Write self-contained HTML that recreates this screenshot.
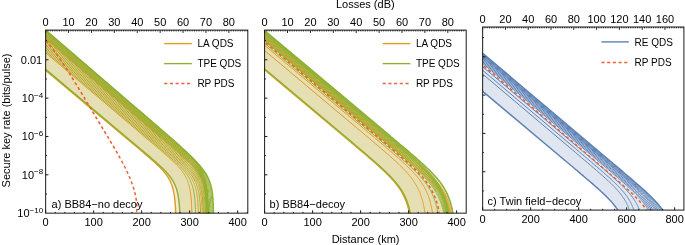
<!DOCTYPE html><html><head><meta charset="utf-8"><style>html,body{margin:0;padding:0;background:#fff;}svg{display:block;will-change:transform;}</style></head><body>
<svg xmlns="http://www.w3.org/2000/svg" width="685" height="245" viewBox="0 0 685 245" font-family='"Liberation Sans", sans-serif'>
<defs><clipPath id="cpa"><rect x="45.65" y="30.1" width="202.15" height="183.05"/></clipPath><clipPath id="cpb"><rect x="264.6" y="30.1" width="201.6" height="183.05"/></clipPath><clipPath id="cpc"><rect x="482.65" y="27" width="201.25" height="183.1"/></clipPath></defs>
<g clip-path="url(#cpa)">
<path d="M42.6,30.1 163.1,133.6 164.6,134.9 166.1,136.2 167.6,137.5 169.1,138.8 170.6,140.1 172.1,141.4 173.6,142.7 175.1,144.0 176.6,145.3 178.1,146.6 179.6,147.9 181.1,149.2 182.6,150.6 184.1,151.9 185.6,153.3 187.1,154.6 188.6,156.1 190.1,157.5 190.7,158.1 191.3,158.7 191.9,159.3 192.5,159.9 193.1,160.5 193.7,161.2 194.3,161.8 194.9,162.5 195.5,163.1 196.1,163.8 196.7,164.6 197.3,165.3 197.9,166.1 198.5,166.9 199.1,167.7 199.7,168.6 200.3,169.5 200.9,170.5 201.5,171.5 202.1,172.6 202.7,173.9 202.9,174.2 203.0,174.5 203.2,174.9 203.3,175.2 203.5,175.6 203.6,175.9 203.8,176.3 203.9,176.7 204.1,177.1 204.2,177.5 204.4,177.9 204.5,178.4 204.7,178.8 204.8,179.3 205.0,179.8 205.1,180.3 205.3,180.8 205.4,181.4 205.6,182.0 205.7,182.6 205.9,183.2 206.0,183.9 206.2,184.6 206.3,185.4 206.5,186.2 206.6,187.1 206.8,188.0 206.9,189.1 207.1,190.2 207.2,191.4 207.4,192.8 207.5,194.3 207.7,196.1 207.8,198.2 208.0,200.7 208.1,203.9 208.3,208.2 208.4,215.0 208.6,231.8 208.6,218.2 175.9,218.2 175.9,222.2 175.8,215.5 175.6,211.1 175.5,208.0 175.3,205.4 175.2,203.4 175.0,201.6 174.9,200.0 174.7,198.7 174.6,197.4 174.4,196.3 174.3,195.3 174.1,194.4 174.0,193.5 173.8,192.7 173.7,191.9 173.5,191.2 173.4,190.5 173.2,189.9 173.1,189.3 172.9,188.7 172.8,188.1 172.6,187.6 172.5,187.1 172.3,186.6 172.2,186.1 172.0,185.7 171.9,185.3 171.7,184.8 171.6,184.4 171.4,184.0 171.3,183.6 171.1,183.3 171.0,182.9 170.8,182.6 170.7,182.2 170.5,181.9 170.4,181.5 170.2,181.2 169.6,180.0 169.0,178.9 168.4,177.9 167.8,176.9 167.2,176.0 166.6,175.1 166.0,174.3 165.4,173.5 164.8,172.8 164.2,172.0 163.6,171.3 163.0,170.6 162.4,170.0 161.8,169.3 161.2,168.7 160.6,168.1 160.0,167.4 159.4,166.8 158.8,166.2 158.2,165.7 157.6,165.1 156.1,163.7 154.6,162.3 153.1,160.9 151.6,159.6 150.1,158.3 148.6,157.0 147.1,155.7 145.6,154.4 144.1,153.1 142.6,151.8 141.1,150.6 139.6,149.3 138.1,148.0 136.6,146.7 135.1,145.5 133.6,144.2 132.1,143.0 130.6,141.7 42.6,67.8Z" fill="#E19C24" fill-opacity="0.2"/>
<path d="M42.6,27.5 136.5,108.3 138.0,109.6 139.5,110.8 141.0,112.1 142.5,113.4 144.0,114.7 145.5,116.0 147.0,117.3 148.5,118.6 150.0,119.9 151.5,121.2 153.0,122.5 154.5,123.8 156.0,125.1 157.5,126.4 159.0,127.7 160.5,129.0 162.0,130.3 163.5,131.6 165.0,132.9 166.5,134.2 168.0,135.5 169.5,136.8 171.0,138.1 172.5,139.4 174.0,140.7 175.5,142.1 177.0,143.4 178.5,144.7 180.0,146.1 181.5,147.4 182.1,148.0 182.7,148.5 183.3,149.1 183.9,149.6 184.5,150.2 185.1,150.7 185.7,151.3 186.3,151.8 186.9,152.4 187.5,153.0 188.1,153.5 188.7,154.1 189.3,154.7 189.9,155.3 190.5,155.8 191.1,156.4 191.7,157.0 192.3,157.6 192.9,158.2 193.5,158.8 194.1,159.4 194.7,160.0 195.3,160.7 195.9,161.3 196.5,161.9 197.1,162.6 197.7,163.2 198.3,163.9 198.9,164.6 199.5,165.3 200.1,166.0 200.7,166.7 201.3,167.5 201.9,168.2 202.5,169.0 203.1,169.8 203.3,170.0 203.4,170.2 203.6,170.4 203.7,170.6 203.9,170.8 204.0,171.1 204.2,171.3 204.3,171.5 204.5,171.7 204.6,171.9 204.8,172.2 204.9,172.4 205.1,172.6 205.2,172.9 205.4,173.1 205.5,173.3 205.7,173.6 205.8,173.8 206.0,174.1 206.1,174.3 206.3,174.6 206.4,174.8 206.6,175.1 206.7,175.4 206.9,175.6 207.0,175.9 207.2,176.2 207.3,176.5 207.5,176.7 207.6,177.0 207.8,177.3 207.9,177.6 208.1,178.0 208.2,178.3 208.4,178.6 208.5,178.9 208.7,179.3 208.8,179.6 209.0,180.0 209.1,180.3 209.3,180.7 209.4,181.1 209.6,181.5 209.7,181.9 209.9,182.3 210.0,182.8 210.2,183.2 210.3,183.7 210.5,184.2 210.6,184.7 210.8,185.2 210.9,185.8 211.1,186.4 211.2,187.0 211.4,187.6 211.5,188.3 211.7,189.1 211.8,189.9 212.0,190.8 212.1,191.7 212.3,192.8 212.4,194.0 212.6,195.3 212.7,196.9 212.9,198.7 213.0,201.1 213.2,204.3 213.3,209.2 213.5,221.3 213.5,218.2 180.0,218.2 180.0,218.0 179.8,213.7 179.7,210.5 179.5,208.0 179.4,205.9 179.2,204.1 179.1,202.6 178.9,201.2 178.8,200.0 178.6,198.9 178.5,197.8 178.3,196.9 178.2,196.0 178.0,195.2 177.9,194.5 177.7,193.7 177.6,193.1 177.4,192.4 177.3,191.8 177.1,191.2 177.0,190.7 176.8,190.1 176.7,189.6 176.5,189.1 176.4,188.7 176.2,188.2 176.1,187.8 175.9,187.4 175.8,186.9 175.6,186.6 175.5,186.2 175.3,185.8 175.2,185.4 175.0,185.1 174.9,184.7 174.7,184.4 174.6,184.1 174.4,183.7 173.8,182.5 173.2,181.4 172.6,180.4 172.0,179.4 171.4,178.5 170.8,177.7 170.2,176.8 169.6,176.0 169.0,175.3 168.4,174.6 167.8,173.8 167.2,173.2 166.6,172.5 166.0,171.8 165.4,171.2 164.8,170.6 164.2,170.0 163.6,169.4 163.0,168.8 162.4,168.2 161.8,167.6 160.3,166.2 158.8,164.8 157.3,163.5 155.8,162.1 154.3,160.8 152.8,159.5 151.3,158.2 149.8,156.9 148.3,155.6 146.8,154.4 145.3,153.1 143.8,151.8 142.3,150.5 140.8,149.3 139.3,148.0 137.8,146.7 136.3,145.5 134.8,144.2 42.6,66.8Z" fill="#8FB032" fill-opacity="0.2"/>
<g fill="none" stroke-linejoin="round">
<path d="M42.6,67.8 130.6,141.7 132.1,143.0 133.6,144.2 135.1,145.5 136.6,146.7 138.1,148.0 139.6,149.3 141.1,150.6 142.6,151.8 144.1,153.1 145.6,154.4 147.1,155.7 148.6,157.0 150.1,158.3 151.6,159.6 153.1,160.9 154.6,162.3 156.1,163.7 157.6,165.1 158.2,165.7 158.8,166.2 159.4,166.8 160.0,167.4 160.6,168.1 161.2,168.7 161.8,169.3 162.4,170.0 163.0,170.6 163.6,171.3 164.2,172.0 164.8,172.8 165.4,173.5 166.0,174.3 166.6,175.1 167.2,176.0 167.8,176.9 168.4,177.9 169.0,178.9 169.6,180.0 170.2,181.2 170.4,181.5 170.5,181.9 170.7,182.2 170.8,182.6 171.0,182.9 171.1,183.3 171.3,183.6 171.4,184.0 171.6,184.4 171.7,184.8 171.9,185.3 172.0,185.7 172.2,186.1 172.3,186.6 172.5,187.1 172.6,187.6 172.8,188.1 172.9,188.7 173.1,189.3 173.2,189.9 173.4,190.5 173.5,191.2 173.7,191.9 173.8,192.7 174.0,193.5 174.1,194.4 174.3,195.3 174.4,196.3 174.6,197.4 174.7,198.7 174.9,200.0 175.0,201.6 175.2,203.4 175.3,205.4 175.5,208.0 175.6,211.1 175.8,215.5 175.9,222.2" stroke="#E19C24" stroke-width="1.45"/>
<path d="M42.6,66.8 134.8,144.2 136.3,145.5 137.8,146.7 139.3,148.0 140.8,149.3 142.3,150.5 143.8,151.8 145.3,153.1 146.8,154.4 148.3,155.6 149.8,156.9 151.3,158.2 152.8,159.5 154.3,160.8 155.8,162.1 157.3,163.5 158.8,164.8 160.3,166.2 161.8,167.6 162.4,168.2 163.0,168.8 163.6,169.4 164.2,170.0 164.8,170.6 165.4,171.2 166.0,171.8 166.6,172.5 167.2,173.2 167.8,173.8 168.4,174.6 169.0,175.3 169.6,176.0 170.2,176.8 170.8,177.7 171.4,178.5 172.0,179.4 172.6,180.4 173.2,181.4 173.8,182.5 174.4,183.7 174.6,184.1 174.7,184.4 174.9,184.7 175.0,185.1 175.2,185.4 175.3,185.8 175.5,186.2 175.6,186.6 175.8,186.9 175.9,187.4 176.1,187.8 176.2,188.2 176.4,188.7 176.5,189.1 176.7,189.6 176.8,190.1 177.0,190.7 177.1,191.2 177.3,191.8 177.4,192.4 177.6,193.1 177.7,193.7 177.9,194.5 178.0,195.2 178.2,196.0 178.3,196.9 178.5,197.8 178.6,198.9 178.8,200.0 178.9,201.2 179.1,202.6 179.2,204.1 179.4,205.9 179.5,208.0 179.7,210.5 179.8,213.7 180.0,218.0" stroke="#8FB032" stroke-width="1.45"/>
<path d="M42.6,50.2 148.8,140.3 150.3,141.5 151.8,142.8 153.3,144.1 154.8,145.4 156.3,146.7 157.8,147.9 159.3,149.2 160.8,150.5 162.3,151.8 163.8,153.1 165.3,154.4 166.8,155.7 168.3,157.1 169.8,158.4 171.3,159.8 172.8,161.2 174.3,162.6 174.9,163.2 175.5,163.8 176.1,164.4 176.7,165.0 177.3,165.6 177.9,166.2 178.5,166.9 179.1,167.5 179.7,168.2 180.3,168.9 180.9,169.6 181.5,170.4 182.1,171.2 182.7,172.0 183.3,172.8 183.9,173.7 184.5,174.7 185.1,175.7 185.7,176.8 186.3,178.0 186.5,178.3 186.6,178.7 186.8,179.0 186.9,179.3 187.1,179.7 187.2,180.0 187.4,180.4 187.5,180.8 187.7,181.2 187.8,181.6 188.0,182.0 188.1,182.4 188.3,182.9 188.4,183.4 188.6,183.8 188.7,184.3 188.9,184.9 189.0,185.4 189.2,186.0 189.3,186.6 189.5,187.2 189.6,187.9 189.8,188.6 189.9,189.4 190.1,190.2 190.2,191.1 190.4,192.0 190.5,193.0 190.7,194.1 190.8,195.3 191.0,196.7 191.1,198.3 191.3,200.0 191.4,202.1 191.6,204.6 191.7,207.8 191.9,212.1 192.0,218.9" stroke="#E19C24" stroke-width="1.0"/>
<path d="M42.6,47.1 155.4,143.0 156.9,144.3 158.4,145.6 159.9,146.9 161.4,148.1 162.9,149.4 164.4,150.7 165.9,152.0 167.4,153.3 168.9,154.6 170.4,155.9 171.9,157.2 173.4,158.5 174.9,159.9 176.4,161.2 177.9,162.6 179.4,164.0 180.9,165.4 181.5,166.0 182.1,166.6 182.7,167.2 183.3,167.8 183.9,168.4 184.5,169.0 185.1,169.7 185.7,170.3 186.3,171.0 186.9,171.7 187.5,172.4 188.1,173.2 188.7,174.0 189.3,174.8 189.9,175.7 190.5,176.6 191.1,177.5 191.7,178.5 192.3,179.6 192.9,180.8 193.1,181.1 193.2,181.5 193.4,181.8 193.5,182.1 193.7,182.5 193.8,182.9 194.0,183.2 194.1,183.6 194.3,184.0 194.4,184.4 194.6,184.8 194.7,185.3 194.9,185.7 195.0,186.2 195.2,186.7 195.3,187.2 195.5,187.7 195.6,188.2 195.8,188.8 195.9,189.4 196.1,190.1 196.2,190.7 196.4,191.4 196.5,192.2 196.7,193.0 196.8,193.9 197.0,194.8 197.1,195.8 197.3,196.9 197.4,198.2 197.6,199.5 197.7,201.1 197.9,202.8 198.0,204.9 198.2,207.4 198.3,210.6 198.5,214.9 198.6,221.7" stroke="#E19C24" stroke-width="1.0"/>
<path d="M42.6,43.9 159.2,143.2 160.7,144.5 162.2,145.8 163.7,147.1 165.2,148.4 166.7,149.7 168.2,150.9 169.7,152.2 171.2,153.5 172.7,154.8 174.2,156.1 175.7,157.4 177.2,158.8 178.7,160.1 180.2,161.5 181.7,162.8 183.2,164.2 184.7,165.7 185.3,166.2 185.9,166.8 186.5,167.4 187.1,168.0 187.7,168.7 188.3,169.3 188.9,169.9 189.5,170.6 190.1,171.3 190.7,172.0 191.3,172.7 191.9,173.5 192.5,174.3 193.1,175.1 193.7,175.9 194.3,176.8 194.9,177.8 195.5,178.8 196.1,179.9 196.7,181.1 196.9,181.4 197.0,181.8 197.2,182.1 197.3,182.4 197.5,182.8 197.6,183.1 197.8,183.5 197.9,183.9 198.1,184.3 198.2,184.7 198.4,185.1 198.5,185.5 198.7,186.0 198.8,186.5 199.0,186.9 199.1,187.4 199.3,188.0 199.4,188.5 199.6,189.1 199.7,189.7 199.9,190.3 200.0,191.0 200.2,191.7 200.3,192.5 200.5,193.3 200.6,194.2 200.8,195.1 200.9,196.1 201.1,197.2 201.2,198.5 201.4,199.8 201.5,201.4 201.7,203.1 201.8,205.2 202.0,207.7 202.1,210.9 202.3,215.2 202.4,222.0" stroke="#E19C24" stroke-width="1.0"/>
<path d="M42.6,40.7 161.4,142.1 162.9,143.4 164.4,144.6 165.9,145.9 167.4,147.2 168.9,148.5 170.4,149.8 171.9,151.1 173.4,152.4 174.9,153.7 176.4,155.0 177.9,156.3 179.4,157.6 180.9,159.0 182.4,160.3 183.9,161.7 185.4,163.1 186.9,164.5 187.5,165.1 188.1,165.7 188.7,166.3 189.3,166.9 189.9,167.5 190.5,168.2 191.1,168.8 191.7,169.5 192.3,170.2 192.9,170.9 193.5,171.6 194.1,172.4 194.7,173.1 195.3,174.0 195.9,174.8 196.5,175.7 197.1,176.7 197.7,177.7 198.3,178.8 198.9,180.0 199.0,180.3 199.2,180.6 199.3,181.0 199.5,181.3 199.6,181.7 199.8,182.0 199.9,182.4 200.1,182.8 200.2,183.2 200.4,183.6 200.5,184.0 200.7,184.4 200.8,184.9 201.0,185.3 201.1,185.8 201.3,186.3 201.4,186.9 201.6,187.4 201.7,188.0 201.9,188.6 202.0,189.2 202.2,189.9 202.3,190.6 202.5,191.4 202.6,192.2 202.8,193.1 202.9,194.0 203.1,195.0 203.2,196.1 203.4,197.3 203.5,198.7 203.7,200.3 203.8,202.0 204.0,204.1 204.1,206.6 204.3,209.8 204.4,214.1 204.6,220.9" stroke="#E19C24" stroke-width="1.0"/>
<path d="M42.6,37.5 163.1,140.6 164.6,141.8 166.1,143.1 167.6,144.4 169.1,145.7 170.6,147.0 172.1,148.3 173.6,149.6 175.1,150.9 176.6,152.2 178.1,153.5 179.6,154.8 181.1,156.1 182.6,157.5 184.1,158.8 185.6,160.2 187.1,161.6 188.6,163.1 189.2,163.6 189.8,164.2 190.4,164.8 191.0,165.4 191.6,166.1 192.2,166.7 192.8,167.4 193.4,168.0 194.0,168.7 194.6,169.4 195.2,170.1 195.8,170.9 196.4,171.7 197.0,172.5 197.6,173.4 198.2,174.3 198.8,175.2 199.4,176.2 200.0,177.3 200.6,178.5 200.8,178.9 200.9,179.2 201.1,179.5 201.2,179.9 201.4,180.2 201.5,180.6 201.7,180.9 201.8,181.3 202.0,181.7 202.1,182.1 202.3,182.5 202.4,183.0 202.6,183.4 202.7,183.9 202.9,184.4 203.0,184.9 203.2,185.4 203.3,186.0 203.5,186.5 203.6,187.2 203.8,187.8 203.9,188.5 204.1,189.2 204.2,189.9 204.4,190.7 204.5,191.6 204.7,192.6 204.8,193.6 205.0,194.7 205.1,195.9 205.3,197.3 205.4,198.8 205.6,200.6 205.7,202.7 205.9,205.2 206.0,208.3 206.2,212.7 206.3,219.4" stroke="#E19C24" stroke-width="1.0"/>
<path d="M42.6,35.7 161.6,137.6 163.1,138.9 164.6,140.1 166.1,141.4 167.6,142.7 169.1,144.0 170.6,145.3 172.1,146.6 173.6,147.9 175.1,149.2 176.6,150.5 178.1,151.8 179.6,153.1 181.1,154.5 182.6,155.8 184.1,157.2 185.6,158.6 187.1,160.0 188.6,161.4 189.2,162.0 189.8,162.6 190.4,163.2 191.0,163.8 191.6,164.4 192.2,165.0 192.8,165.7 193.4,166.4 194.0,167.0 194.6,167.7 195.2,168.4 195.8,169.2 196.4,169.9 197.0,170.7 197.6,171.6 198.2,172.5 198.8,173.4 199.4,174.4 200.0,175.4 200.6,176.5 201.2,177.7 201.4,178.1 201.5,178.4 201.7,178.7 201.8,179.1 202.0,179.4 202.1,179.8 202.3,180.2 202.4,180.6 202.6,181.0 202.7,181.4 202.9,181.8 203.0,182.2 203.2,182.7 203.3,183.2 203.5,183.7 203.6,184.2 203.8,184.7 203.9,185.3 204.1,185.8 204.2,186.4 204.4,187.1 204.5,187.8 204.7,188.5 204.8,189.3 205.0,190.1 205.1,190.9 205.3,191.9 205.4,192.9 205.6,194.0 205.7,195.3 205.9,196.6 206.0,198.2 206.2,200.0 206.3,202.0 206.5,204.5 206.6,207.7 206.8,212.1 206.9,218.9" stroke="#E19C24" stroke-width="1.0"/>
<path d="M42.6,34.3 162.0,136.6 163.5,137.9 165.0,139.1 166.5,140.4 168.0,141.7 169.5,143.0 171.0,144.3 172.5,145.6 174.0,146.9 175.5,148.2 177.0,149.5 178.5,150.8 180.0,152.2 181.5,153.5 183.0,154.8 184.5,156.2 186.0,157.6 187.5,159.0 189.0,160.4 189.6,161.0 190.2,161.6 190.8,162.2 191.4,162.8 192.0,163.4 192.6,164.1 193.2,164.7 193.8,165.4 194.4,166.1 195.0,166.8 195.6,167.5 196.2,168.2 196.8,169.0 197.4,169.8 198.0,170.6 198.6,171.5 199.2,172.4 199.8,173.4 200.4,174.4 201.0,175.5 201.6,176.8 201.7,177.1 201.9,177.4 202.0,177.8 202.2,178.1 202.3,178.5 202.5,178.8 202.6,179.2 202.8,179.6 202.9,180.0 203.1,180.4 203.2,180.8 203.4,181.3 203.5,181.7 203.7,182.2 203.8,182.7 204.0,183.2 204.1,183.7 204.3,184.3 204.4,184.9 204.6,185.5 204.7,186.1 204.9,186.8 205.0,187.5 205.2,188.3 205.3,189.1 205.5,190.0 205.6,190.9 205.8,191.9 205.9,193.1 206.1,194.3 206.2,195.7 206.4,197.2 206.5,199.0 206.7,201.1 206.8,203.6 207.0,206.8 207.1,211.1 207.3,217.9" stroke="#E19C24" stroke-width="1.0"/>
<path d="M42.6,32.9 162.4,135.6 163.9,136.9 165.4,138.2 166.9,139.4 168.4,140.7 169.9,142.0 171.4,143.3 172.9,144.6 174.4,145.9 175.9,147.2 177.4,148.5 178.9,149.9 180.4,151.2 181.9,152.5 183.4,153.9 184.9,155.2 186.4,156.6 187.9,158.0 189.4,159.4 190.0,160.0 190.6,160.6 191.2,161.2 191.8,161.8 192.4,162.5 193.0,163.1 193.6,163.7 194.2,164.4 194.8,165.1 195.4,165.8 196.0,166.5 196.6,167.2 197.2,168.0 197.8,168.8 198.4,169.6 199.0,170.5 199.6,171.4 200.2,172.4 200.8,173.5 201.4,174.6 202.0,175.8 202.1,176.1 202.3,176.4 202.4,176.8 202.6,177.1 202.7,177.5 202.9,177.9 203.0,178.2 203.2,178.6 203.3,179.0 203.5,179.4 203.6,179.9 203.8,180.3 203.9,180.8 204.1,181.2 204.2,181.7 204.4,182.2 204.5,182.8 204.7,183.3 204.8,183.9 205.0,184.5 205.1,185.2 205.3,185.8 205.4,186.6 205.6,187.3 205.7,188.1 205.9,189.0 206.0,190.0 206.2,191.0 206.3,192.1 206.5,193.3 206.6,194.7 206.8,196.2 206.9,198.0 207.1,200.1 207.2,202.6 207.4,205.8 207.5,210.1 207.7,216.9" stroke="#E19C24" stroke-width="1.0"/>
<path d="M42.6,31.5 162.8,134.6 164.3,135.9 165.8,137.2 167.3,138.5 168.8,139.7 170.3,141.0 171.8,142.3 173.3,143.6 174.8,144.9 176.3,146.2 177.8,147.6 179.3,148.9 180.8,150.2 182.3,151.5 183.8,152.9 185.3,154.2 186.8,155.6 188.3,157.0 189.8,158.5 190.4,159.1 191.0,159.6 191.6,160.3 192.2,160.9 192.8,161.5 193.4,162.1 194.0,162.8 194.6,163.4 195.2,164.1 195.8,164.8 196.4,165.5 197.0,166.3 197.6,167.0 198.2,167.8 198.8,168.7 199.4,169.5 200.0,170.5 200.6,171.4 201.2,172.5 201.8,173.6 202.4,174.8 202.5,175.2 202.7,175.5 202.8,175.8 203.0,176.2 203.1,176.5 203.3,176.9 203.4,177.3 203.6,177.7 203.7,178.1 203.9,178.5 204.0,178.9 204.2,179.3 204.3,179.8 204.5,180.3 204.6,180.8 204.8,181.3 204.9,181.8 205.1,182.4 205.2,182.9 205.4,183.6 205.5,184.2 205.7,184.9 205.8,185.6 206.0,186.4 206.1,187.2 206.3,188.1 206.4,189.0 206.6,190.0 206.7,191.1 206.9,192.4 207.0,193.7 207.2,195.3 207.3,197.1 207.5,199.1 207.6,201.7 207.8,204.8 207.9,209.2 208.1,216.0 208.2,232.8" stroke="#E19C24" stroke-width="1.0"/>
<path d="M42.6,30.1 163.1,133.6 164.6,134.9 166.1,136.2 167.6,137.5 169.1,138.8 170.6,140.1 172.1,141.4 173.6,142.7 175.1,144.0 176.6,145.3 178.1,146.6 179.6,147.9 181.1,149.2 182.6,150.6 184.1,151.9 185.6,153.3 187.1,154.6 188.6,156.1 190.1,157.5 190.7,158.1 191.3,158.7 191.9,159.3 192.5,159.9 193.1,160.5 193.7,161.2 194.3,161.8 194.9,162.5 195.5,163.1 196.1,163.8 196.7,164.6 197.3,165.3 197.9,166.1 198.5,166.9 199.1,167.7 199.7,168.6 200.3,169.5 200.9,170.5 201.5,171.5 202.1,172.6 202.7,173.9 202.9,174.2 203.0,174.5 203.2,174.9 203.3,175.2 203.5,175.6 203.6,175.9 203.8,176.3 203.9,176.7 204.1,177.1 204.2,177.5 204.4,177.9 204.5,178.4 204.7,178.8 204.8,179.3 205.0,179.8 205.1,180.3 205.3,180.8 205.4,181.4 205.6,182.0 205.7,182.6 205.9,183.2 206.0,183.9 206.2,184.6 206.3,185.4 206.5,186.2 206.6,187.1 206.8,188.0 206.9,189.1 207.1,190.2 207.2,191.4 207.4,192.8 207.5,194.3 207.7,196.1 207.8,198.2 208.0,200.7 208.1,203.9 208.3,208.2 208.4,215.0 208.6,231.8" stroke="#E19C24" stroke-width="1.0"/>
<path d="M42.6,48.8 152.6,142.1 154.1,143.4 155.6,144.7 157.1,146.0 158.6,147.2 160.1,148.5 161.6,149.8 163.1,151.1 164.6,152.4 166.1,153.7 167.6,155.0 169.1,156.3 170.6,157.6 172.1,158.9 173.6,160.3 175.1,161.7 176.6,163.1 178.1,164.5 178.7,165.1 179.3,165.7 179.9,166.3 180.5,166.9 181.1,167.5 181.7,168.1 182.3,168.8 182.9,169.4 183.5,170.1 184.1,170.8 184.7,171.5 185.3,172.3 185.9,173.1 186.5,173.9 187.1,174.7 187.7,175.6 188.3,176.6 188.9,177.6 189.5,178.7 190.1,179.9 190.2,180.2 190.4,180.5 190.5,180.9 190.7,181.2 190.8,181.6 191.0,181.9 191.1,182.3 191.3,182.7 191.4,183.1 191.6,183.5 191.7,183.9 191.9,184.3 192.0,184.8 192.2,185.2 192.3,185.7 192.5,186.2 192.6,186.8 192.8,187.3 192.9,187.9 193.1,188.5 193.2,189.1 193.4,189.8 193.5,190.5 193.7,191.3 193.8,192.1 194.0,193.0 194.1,193.9 194.3,194.9 194.4,196.0 194.6,197.2 194.7,198.6 194.9,200.1 195.0,201.9 195.2,204.0 195.3,206.5 195.5,209.7 195.6,214.0 195.8,220.8" stroke="#8FB032" stroke-width="1.0"/>
<path d="M42.6,45.5 157.6,143.4 159.1,144.7 160.6,146.0 162.1,147.2 163.6,148.5 165.1,149.8 166.6,151.1 168.1,152.4 169.6,153.7 171.1,155.0 172.6,156.3 174.1,157.6 175.6,158.9 177.1,160.2 178.6,161.6 180.1,163.0 181.6,164.4 183.1,165.8 183.7,166.4 184.3,167.0 184.9,167.6 185.5,168.2 186.1,168.8 186.7,169.4 187.3,170.1 187.9,170.7 188.5,171.4 189.1,172.1 189.7,172.8 190.3,173.6 190.9,174.4 191.5,175.2 192.1,176.0 192.7,177.0 193.3,177.9 193.9,178.9 194.5,180.0 195.1,181.2 195.3,181.5 195.4,181.9 195.6,182.2 195.7,182.5 195.9,182.9 196.0,183.3 196.2,183.6 196.3,184.0 196.5,184.4 196.6,184.8 196.8,185.2 196.9,185.7 197.1,186.1 197.2,186.6 197.4,187.1 197.5,187.6 197.7,188.1 197.8,188.6 198.0,189.2 198.1,189.8 198.3,190.5 198.4,191.1 198.6,191.8 198.7,192.6 198.9,193.4 199.0,194.3 199.2,195.2 199.3,196.2 199.5,197.3 199.6,198.6 199.8,199.9 199.9,201.5 200.1,203.2 200.2,205.3 200.4,207.8 200.5,211.0 200.7,215.3 200.8,222.1" stroke="#8FB032" stroke-width="1.0"/>
<path d="M42.6,42.3 160.4,142.7 161.9,144.0 163.4,145.3 164.9,146.6 166.4,147.9 167.9,149.2 169.4,150.5 170.9,151.7 172.4,153.0 173.9,154.3 175.4,155.6 176.9,157.0 178.4,158.3 179.9,159.6 181.4,161.0 182.9,162.3 184.4,163.7 185.9,165.2 186.5,165.8 187.1,166.4 187.7,167.0 188.3,167.6 188.9,168.2 189.5,168.8 190.1,169.5 190.7,170.1 191.3,170.8 191.9,171.5 192.5,172.2 193.1,173.0 193.7,173.8 194.3,174.6 194.9,175.5 195.5,176.4 196.1,177.3 196.7,178.3 197.3,179.4 197.9,180.6 198.0,181.0 198.2,181.3 198.3,181.6 198.5,182.0 198.6,182.3 198.8,182.7 198.9,183.0 199.1,183.4 199.2,183.8 199.4,184.2 199.5,184.6 199.7,185.1 199.8,185.5 200.0,186.0 200.1,186.5 200.3,187.0 200.4,187.5 200.6,188.1 200.7,188.6 200.9,189.2 201.0,189.9 201.2,190.5 201.3,191.3 201.5,192.0 201.6,192.8 201.8,193.7 201.9,194.6 202.1,195.7 202.2,196.8 202.4,198.0 202.5,199.4 202.7,200.9 202.8,202.7 203.0,204.7 203.1,207.2 203.3,210.4 203.4,214.7 203.6,221.5" stroke="#8FB032" stroke-width="1.0"/>
<path d="M42.6,39.1 162.3,141.3 163.8,142.6 165.3,143.9 166.8,145.2 168.3,146.5 169.8,147.7 171.3,149.0 172.8,150.3 174.3,151.6 175.8,152.9 177.3,154.2 178.8,155.6 180.3,156.9 181.8,158.2 183.3,159.6 184.8,160.9 186.3,162.4 187.8,163.8 188.4,164.4 189.0,165.0 189.6,165.6 190.2,166.2 190.8,166.8 191.4,167.4 192.0,168.1 192.6,168.8 193.2,169.4 193.8,170.1 194.4,170.9 195.0,171.6 195.6,172.4 196.2,173.2 196.8,174.1 197.4,175.0 198.0,175.9 198.6,177.0 199.2,178.1 199.8,179.3 199.9,179.6 200.1,179.9 200.2,180.2 200.4,180.6 200.5,180.9 200.7,181.3 200.8,181.7 201.0,182.1 201.1,182.4 201.3,182.9 201.4,183.3 201.6,183.7 201.7,184.2 201.9,184.6 202.0,185.1 202.2,185.6 202.3,186.1 202.5,186.7 202.6,187.3 202.8,187.9 202.9,188.5 203.1,189.2 203.2,189.9 203.4,190.7 203.5,191.5 203.7,192.3 203.8,193.3 204.0,194.3 204.1,195.4 204.3,196.6 204.4,198.0 204.6,199.5 204.7,201.3 204.9,203.4 205.0,205.9 205.2,209.1 205.3,213.4 205.5,220.2" stroke="#8FB032" stroke-width="1.0"/>
<path d="M42.6,36.4 161.4,138.1 162.9,139.4 164.4,140.6 165.9,141.9 167.4,143.2 168.9,144.5 170.4,145.8 171.9,147.1 173.4,148.4 174.9,149.7 176.4,151.0 177.9,152.3 179.4,153.6 180.9,155.0 182.4,156.3 183.9,157.7 185.4,159.0 186.9,160.4 188.4,161.9 189.0,162.5 189.6,163.1 190.2,163.7 190.8,164.3 191.4,164.9 192.0,165.5 192.6,166.2 193.2,166.8 193.8,167.5 194.4,168.2 195.0,168.9 195.6,169.7 196.2,170.4 196.8,171.2 197.4,172.1 198.0,172.9 198.6,173.9 199.2,174.8 199.8,175.9 200.4,177.0 201.0,178.2 201.2,178.5 201.3,178.9 201.5,179.2 201.6,179.6 201.8,179.9 201.9,180.3 202.1,180.7 202.2,181.0 202.4,181.4 202.5,181.9 202.7,182.3 202.8,182.7 203.0,183.2 203.1,183.6 203.3,184.1 203.4,184.6 203.6,185.2 203.7,185.7 203.9,186.3 204.0,186.9 204.2,187.6 204.3,188.3 204.5,189.0 204.6,189.7 204.8,190.6 204.9,191.4 205.1,192.4 205.2,193.4 205.4,194.5 205.5,195.7 205.7,197.1 205.8,198.7 206.0,200.4 206.1,202.5 206.3,205.0 206.4,208.2 206.6,212.5 206.7,219.3" stroke="#8FB032" stroke-width="1.0"/>
<path d="M42.6,35.0 161.8,137.1 163.3,138.4 164.8,139.6 166.3,140.9 167.8,142.2 169.3,143.5 170.8,144.8 172.3,146.1 173.8,147.4 175.3,148.7 176.8,150.0 178.3,151.3 179.8,152.7 181.3,154.0 182.8,155.3 184.3,156.7 185.8,158.1 187.3,159.5 188.8,160.9 189.4,161.5 190.0,162.1 190.6,162.7 191.2,163.3 191.8,163.9 192.4,164.6 193.0,165.2 193.6,165.9 194.2,166.5 194.8,167.2 195.4,168.0 196.0,168.7 196.6,169.5 197.2,170.3 197.8,171.1 198.4,172.0 199.0,172.9 199.6,173.9 200.2,174.9 200.8,176.0 201.4,177.2 201.6,177.6 201.7,177.9 201.9,178.2 202.0,178.6 202.2,178.9 202.3,179.3 202.5,179.7 202.6,180.1 202.8,180.5 202.9,180.9 203.1,181.3 203.2,181.7 203.4,182.2 203.5,182.7 203.7,183.2 203.8,183.7 204.0,184.2 204.1,184.8 204.3,185.4 204.4,186.0 204.6,186.6 204.7,187.3 204.9,188.0 205.0,188.8 205.2,189.6 205.3,190.5 205.5,191.4 205.6,192.4 205.8,193.5 205.9,194.8 206.1,196.1 206.2,197.7 206.4,199.5 206.5,201.5 206.7,204.1 206.8,207.2 207.0,211.6 207.1,218.4" stroke="#8FB032" stroke-width="1.0"/>
<path d="M42.6,33.6 162.2,136.1 163.7,137.4 165.2,138.7 166.7,139.9 168.2,141.2 169.7,142.5 171.2,143.8 172.7,145.1 174.2,146.4 175.7,147.7 177.2,149.0 178.7,150.3 180.2,151.7 181.7,153.0 183.2,154.3 184.7,155.7 186.2,157.1 187.7,158.5 189.2,159.9 189.8,160.5 190.4,161.1 191.0,161.7 191.6,162.3 192.2,162.9 192.8,163.6 193.4,164.2 194.0,164.9 194.6,165.6 195.2,166.3 195.8,167.0 196.4,167.7 197.0,168.5 197.6,169.3 198.2,170.1 198.8,171.0 199.4,171.9 200.0,172.9 200.6,173.9 201.2,175.1 201.8,176.3 201.9,176.6 202.1,176.9 202.2,177.3 202.4,177.6 202.5,178.0 202.7,178.3 202.8,178.7 203.0,179.1 203.1,179.5 203.3,179.9 203.4,180.3 203.6,180.8 203.7,181.2 203.9,181.7 204.0,182.2 204.2,182.7 204.3,183.2 204.5,183.8 204.6,184.4 204.8,185.0 204.9,185.6 205.1,186.3 205.2,187.0 205.4,187.8 205.5,188.6 205.7,189.5 205.8,190.4 206.0,191.5 206.1,192.6 206.3,193.8 206.4,195.2 206.6,196.7 206.7,198.5 206.9,200.6 207.0,203.1 207.2,206.3 207.3,210.6 207.5,217.4" stroke="#8FB032" stroke-width="1.0"/>
<path d="M42.6,32.2 162.6,135.1 164.1,136.4 165.6,137.7 167.1,139.0 168.6,140.2 170.1,141.5 171.6,142.8 173.1,144.1 174.6,145.4 176.1,146.7 177.6,148.0 179.1,149.4 180.6,150.7 182.1,152.0 183.6,153.4 185.1,154.7 186.6,156.1 188.1,157.5 189.6,159.0 190.2,159.5 190.8,160.1 191.4,160.7 192.0,161.4 192.6,162.0 193.2,162.6 193.8,163.3 194.4,163.9 195.0,164.6 195.6,165.3 196.2,166.0 196.8,166.8 197.4,167.5 198.0,168.3 198.6,169.2 199.2,170.0 199.8,171.0 200.4,171.9 201.0,173.0 201.6,174.1 202.2,175.3 202.3,175.6 202.5,176.0 202.6,176.3 202.8,176.7 202.9,177.0 203.1,177.4 203.2,177.7 203.4,178.1 203.5,178.5 203.7,178.9 203.8,179.4 204.0,179.8 204.1,180.3 204.3,180.7 204.4,181.2 204.6,181.7 204.7,182.3 204.9,182.8 205.0,183.4 205.2,184.0 205.3,184.7 205.5,185.4 205.6,186.1 205.8,186.8 205.9,187.7 206.1,188.5 206.2,189.5 206.4,190.5 206.5,191.6 206.7,192.8 206.8,194.2 207.0,195.8 207.1,197.5 207.3,199.6 207.4,202.1 207.6,205.3 207.7,209.6 207.9,216.4" stroke="#8FB032" stroke-width="1.0"/>
<path d="M42.6,30.8 162.9,134.1 164.4,135.4 165.9,136.7 167.4,138.0 168.9,139.3 170.4,140.6 171.9,141.8 173.4,143.1 174.9,144.4 176.4,145.8 177.9,147.1 179.4,148.4 180.9,149.7 182.4,151.0 183.9,152.4 185.4,153.7 186.9,155.1 188.4,156.5 189.9,158.0 190.5,158.6 191.1,159.2 191.7,159.8 192.3,160.4 192.9,161.0 193.5,161.6 194.1,162.3 194.7,162.9 195.3,163.6 195.9,164.3 196.5,165.0 197.1,165.8 197.7,166.6 198.3,167.4 198.9,168.2 199.5,169.1 200.1,170.0 200.7,171.0 201.3,172.0 201.9,173.1 202.5,174.4 202.7,174.7 202.8,175.0 203.0,175.3 203.1,175.7 203.3,176.0 203.4,176.4 203.6,176.8 203.7,177.2 203.9,177.6 204.0,178.0 204.2,178.4 204.3,178.9 204.5,179.3 204.6,179.8 204.8,180.3 204.9,180.8 205.1,181.3 205.2,181.9 205.4,182.5 205.5,183.1 205.7,183.7 205.8,184.4 206.0,185.1 206.1,185.9 206.3,186.7 206.4,187.6 206.6,188.5 206.7,189.5 206.9,190.7 207.0,191.9 207.2,193.3 207.3,194.8 207.5,196.6 207.6,198.7 207.8,201.2 207.9,204.4 208.1,208.7 208.2,215.5 208.4,232.3" stroke="#8FB032" stroke-width="1.0"/>
<path d="M42.6,29.4 163.3,133.1 164.8,134.4 166.3,135.7 167.8,137.0 169.3,138.3 170.8,139.6 172.3,140.9 173.8,142.2 175.3,143.5 176.8,144.8 178.3,146.1 179.8,147.4 181.3,148.7 182.8,150.1 184.3,151.4 185.8,152.8 187.3,154.2 188.8,155.6 190.3,157.0 190.9,157.6 191.5,158.2 192.1,158.8 192.7,159.4 193.3,160.0 193.9,160.7 194.5,161.3 195.1,162.0 195.7,162.7 196.3,163.4 196.9,164.1 197.5,164.8 198.1,165.6 198.7,166.4 199.3,167.2 199.9,168.1 200.5,169.0 201.1,170.0 201.7,171.0 202.3,172.2 202.9,173.4 203.1,173.7 203.2,174.0 203.4,174.4 203.5,174.7 203.7,175.1 203.8,175.4 204.0,175.8 204.1,176.2 204.3,176.6 204.4,177.0 204.6,177.4 204.7,177.9 204.9,178.3 205.0,178.8 205.2,179.3 205.3,179.8 205.5,180.4 205.6,180.9 205.8,181.5 205.9,182.1 206.1,182.8 206.2,183.4 206.4,184.2 206.5,184.9 206.7,185.7 206.8,186.6 207.0,187.6 207.1,188.6 207.3,189.7 207.4,190.9 207.6,192.3 207.7,193.8 207.9,195.6 208.0,197.7 208.2,200.2 208.3,203.4 208.5,207.7 208.6,214.5 208.8,231.4" stroke="#8FB032" stroke-width="1.0"/>
<path d="M42.6,28.8 154.0,124.5 155.5,125.8 157.0,127.1 158.5,128.4 160.0,129.7 161.5,131.0 163.0,132.3 164.5,133.6 166.0,134.9 167.5,136.2 169.0,137.5 170.5,138.8 172.0,140.1 173.5,141.4 175.0,142.7 176.5,144.0 178.0,145.4 179.5,146.7 181.0,148.0 182.5,149.4 184.0,150.8 185.5,152.1 187.0,153.5 187.6,154.1 188.2,154.7 188.8,155.3 189.4,155.8 190.0,156.4 190.6,157.0 191.2,157.6 191.8,158.2 192.4,158.9 193.0,159.5 193.6,160.1 194.2,160.8 194.8,161.4 195.4,162.1 196.0,162.8 196.6,163.5 197.2,164.2 197.8,164.9 198.4,165.7 199.0,166.5 199.6,167.3 200.2,168.2 200.8,169.0 201.4,170.0 202.0,171.0 202.6,172.0 202.8,172.3 202.9,172.5 203.1,172.8 203.2,173.1 203.4,173.4 203.5,173.7 203.7,174.0 203.8,174.3 204.0,174.6 204.1,174.9 204.3,175.3 204.4,175.6 204.6,175.9 204.7,176.3 204.9,176.6 205.0,177.0 205.2,177.4 205.3,177.8 205.5,178.2 205.6,178.6 205.8,179.0 205.9,179.4 206.1,179.9 206.2,180.4 206.4,180.9 206.5,181.4 206.7,181.9 206.8,182.4 207.0,183.0 207.1,183.6 207.3,184.2 207.4,184.9 207.6,185.6 207.7,186.3 207.9,187.1 208.0,188.0 208.2,188.9 208.3,189.9 208.5,190.9 208.6,192.1 208.8,193.4 208.9,194.9 209.1,196.6 209.2,198.5 209.4,200.9 209.5,203.9 209.7,207.9 209.8,214.3 210.0,230.0" stroke="#8FB032" stroke-width="1.0"/>
<path d="M42.6,28.4 148.2,119.2 149.7,120.4 151.2,121.7 152.7,123.0 154.2,124.3 155.7,125.6 157.2,126.9 158.7,128.2 160.2,129.5 161.7,130.8 163.2,132.1 164.7,133.4 166.2,134.7 167.7,136.0 169.2,137.3 170.7,138.6 172.2,139.9 173.7,141.2 175.2,142.5 176.7,143.9 178.2,145.2 179.7,146.5 181.2,147.9 182.7,149.2 184.2,150.6 184.8,151.2 185.4,151.7 186.0,152.3 186.6,152.9 187.2,153.4 187.8,154.0 188.4,154.6 189.0,155.1 189.6,155.7 190.2,156.3 190.8,156.9 191.4,157.5 192.0,158.1 192.6,158.7 193.2,159.3 193.8,160.0 194.4,160.6 195.0,161.3 195.6,161.9 196.2,162.6 196.8,163.3 197.4,164.0 198.0,164.7 198.6,165.4 199.2,166.2 199.8,166.9 200.4,167.7 201.0,168.6 201.6,169.4 202.2,170.3 202.8,171.3 202.9,171.5 203.1,171.8 203.2,172.0 203.4,172.3 203.5,172.5 203.7,172.8 203.8,173.1 204.0,173.3 204.1,173.6 204.3,173.9 204.4,174.2 204.6,174.4 204.7,174.7 204.9,175.0 205.0,175.3 205.2,175.6 205.3,176.0 205.5,176.3 205.6,176.6 205.8,176.9 205.9,177.3 206.1,177.6 206.2,178.0 206.4,178.4 206.5,178.8 206.7,179.1 206.8,179.6 207.0,180.0 207.1,180.4 207.3,180.8 207.4,181.3 207.6,181.8 207.7,182.3 207.9,182.8 208.0,183.3 208.2,183.9 208.3,184.4 208.5,185.0 208.6,185.7 208.8,186.4 208.9,187.1 209.1,187.9 209.2,188.7 209.4,189.5 209.5,190.5 209.7,191.5 209.8,192.7 210.0,194.0 210.1,195.4 210.3,197.0 210.4,199.0 210.6,201.4 210.7,204.4 210.9,208.7 211.0,215.9" stroke="#8FB032" stroke-width="1.0"/>
<path d="M42.6,28.0 142.4,113.8 143.9,115.0 145.4,116.3 146.9,117.6 148.4,118.9 149.9,120.2 151.4,121.5 152.9,122.8 154.4,124.1 155.9,125.4 157.4,126.7 158.9,128.0 160.4,129.3 161.9,130.6 163.4,131.9 164.9,133.2 166.4,134.5 167.9,135.8 169.4,137.1 170.9,138.4 172.4,139.7 173.9,141.0 175.4,142.4 176.9,143.7 178.4,145.0 179.9,146.4 181.4,147.7 182.9,149.1 183.5,149.6 184.1,150.2 184.7,150.7 185.3,151.3 185.9,151.8 186.5,152.4 187.1,153.0 187.7,153.5 188.3,154.1 188.9,154.7 189.5,155.3 190.1,155.8 190.7,156.4 191.3,157.0 191.9,157.6 192.5,158.2 193.1,158.8 193.7,159.5 194.3,160.1 194.9,160.7 195.5,161.4 196.1,162.0 196.7,162.7 197.3,163.3 197.9,164.0 198.5,164.7 199.1,165.4 199.7,166.2 200.3,166.9 200.9,167.7 201.5,168.5 202.1,169.3 202.7,170.1 202.8,170.4 203.0,170.6 203.1,170.8 203.3,171.0 203.4,171.3 203.6,171.5 203.7,171.7 203.9,172.0 204.0,172.2 204.2,172.4 204.3,172.7 204.5,172.9 204.6,173.2 204.8,173.4 204.9,173.7 205.1,173.9 205.2,174.2 205.4,174.5 205.5,174.7 205.7,175.0 205.8,175.3 206.0,175.6 206.1,175.9 206.3,176.2 206.4,176.5 206.6,176.8 206.7,177.1 206.9,177.4 207.0,177.8 207.2,178.1 207.3,178.4 207.5,178.8 207.6,179.1 207.8,179.5 207.9,179.9 208.1,180.3 208.2,180.7 208.4,181.1 208.5,181.5 208.7,182.0 208.8,182.4 209.0,182.9 209.1,183.4 209.3,183.9 209.4,184.4 209.6,185.0 209.7,185.6 209.9,186.2 210.0,186.8 210.2,187.5 210.3,188.3 210.5,189.1 210.6,189.9 210.8,190.8 210.9,191.8 211.1,192.9 211.2,194.2 211.4,195.5 211.5,197.2 211.7,199.1 211.8,201.4 212.0,204.5 212.1,209.1 212.3,217.9" stroke="#8FB032" stroke-width="1.0"/>
<path d="M42.6,27.5 136.5,108.3 138.0,109.6 139.5,110.8 141.0,112.1 142.5,113.4 144.0,114.7 145.5,116.0 147.0,117.3 148.5,118.6 150.0,119.9 151.5,121.2 153.0,122.5 154.5,123.8 156.0,125.1 157.5,126.4 159.0,127.7 160.5,129.0 162.0,130.3 163.5,131.6 165.0,132.9 166.5,134.2 168.0,135.5 169.5,136.8 171.0,138.1 172.5,139.4 174.0,140.7 175.5,142.1 177.0,143.4 178.5,144.7 180.0,146.1 181.5,147.4 182.1,148.0 182.7,148.5 183.3,149.1 183.9,149.6 184.5,150.2 185.1,150.7 185.7,151.3 186.3,151.8 186.9,152.4 187.5,153.0 188.1,153.5 188.7,154.1 189.3,154.7 189.9,155.3 190.5,155.8 191.1,156.4 191.7,157.0 192.3,157.6 192.9,158.2 193.5,158.8 194.1,159.4 194.7,160.0 195.3,160.7 195.9,161.3 196.5,161.9 197.1,162.6 197.7,163.2 198.3,163.9 198.9,164.6 199.5,165.3 200.1,166.0 200.7,166.7 201.3,167.5 201.9,168.2 202.5,169.0 203.1,169.8 203.3,170.0 203.4,170.2 203.6,170.4 203.7,170.6 203.9,170.8 204.0,171.1 204.2,171.3 204.3,171.5 204.5,171.7 204.6,171.9 204.8,172.2 204.9,172.4 205.1,172.6 205.2,172.9 205.4,173.1 205.5,173.3 205.7,173.6 205.8,173.8 206.0,174.1 206.1,174.3 206.3,174.6 206.4,174.8 206.6,175.1 206.7,175.4 206.9,175.6 207.0,175.9 207.2,176.2 207.3,176.5 207.5,176.7 207.6,177.0 207.8,177.3 207.9,177.6 208.1,178.0 208.2,178.3 208.4,178.6 208.5,178.9 208.7,179.3 208.8,179.6 209.0,180.0 209.1,180.3 209.3,180.7 209.4,181.1 209.6,181.5 209.7,181.9 209.9,182.3 210.0,182.8 210.2,183.2 210.3,183.7 210.5,184.2 210.6,184.7 210.8,185.2 210.9,185.8 211.1,186.4 211.2,187.0 211.4,187.6 211.5,188.3 211.7,189.1 211.8,189.9 212.0,190.8 212.1,191.7 212.3,192.8 212.4,194.0 212.6,195.3 212.7,196.9 212.9,198.7 213.0,201.1 213.2,204.3 213.3,209.2 213.5,221.3" stroke="#8FB032" stroke-width="1.6"/>
<path d="M42.0,36.0 42.9,37.0 43.8,38.0 44.6,39.0 45.5,40.0 46.3,41.0 47.2,42.0 48.0,43.0 48.8,44.0 49.6,45.0 50.4,46.0 51.2,47.0 52.0,48.0 52.7,49.0 53.5,50.0 54.2,51.0 55.0,52.0 55.7,53.0 56.4,54.0 57.1,55.0 57.9,56.0 58.6,57.0 59.3,58.0 60.0,59.0 60.6,60.0 61.3,61.0 62.0,62.0 62.7,63.0 63.3,64.0 64.0,65.0 64.7,66.0 65.3,67.0 66.0,68.0 66.6,69.0 67.3,70.0 67.9,71.0 68.5,72.0 69.2,73.0 69.8,74.0 70.4,75.0 71.0,76.0 71.7,77.0 72.3,78.0 72.9,79.0 73.5,80.0 74.1,81.0 74.7,82.0 75.3,83.0 76.0,84.0 76.6,85.0 77.2,86.0 77.8,87.0 78.4,88.0 79.0,89.0 79.6,90.0 80.2,91.0 80.8,92.0 81.4,93.0 82.0,94.0 82.6,95.0 83.2,96.0 83.8,97.0 84.4,98.0 85.0,99.0 85.6,100.0 86.2,101.0 86.8,102.0 87.4,103.0 88.0,104.0 88.6,105.0 89.2,106.0 89.8,107.0 90.4,108.0 91.0,109.0 91.6,110.0 92.2,111.0 92.8,112.0 93.4,113.0 94.0,114.0 94.6,115.0 95.2,116.0 95.8,117.0 96.4,118.0 97.0,119.0 97.6,120.0 98.2,121.0 98.8,122.0 99.4,123.0 100.0,124.0 100.6,125.0 101.2,126.0 101.8,127.0 102.4,128.0 103.0,129.0 103.6,130.0 104.2,131.0 104.8,132.0 105.4,133.0 106.1,134.0 106.7,135.0 107.3,136.0 107.9,137.0 108.5,138.0 109.1,139.0 109.7,140.0 110.2,141.0 110.8,142.0 111.4,143.0 112.0,144.0 112.6,145.0 113.2,146.0 113.8,147.0 114.4,148.0 115.0,149.0 115.5,150.0 116.1,151.0 116.7,152.0 117.2,153.0 117.8,154.0 118.4,155.0 118.9,156.0 119.5,157.0 120.0,158.0 120.6,159.0 121.1,160.0 121.7,161.0 122.2,162.0 122.7,163.0 123.2,164.0 123.8,165.0 124.3,166.0 124.8,167.0 125.3,168.0 125.8,169.0 126.3,170.0 126.7,171.0 127.2,172.0 127.7,173.0 128.1,174.0 128.6,175.0 129.0,176.0 129.4,177.0 129.9,178.0 130.3,179.0 130.7,180.0 131.1,181.0 131.5,182.0 131.8,183.0 132.2,184.0 132.5,185.0 132.9,186.0 133.2,187.0 133.5,188.0 133.8,189.0 134.1,190.0 134.4,191.0 134.7,192.0 134.9,193.0 135.2,194.0 135.4,195.0 135.6,196.0 135.8,197.0 136.0,198.0 136.1,199.0 136.3,200.0 136.4,201.0 136.5,202.0 136.6,203.0 136.7,204.0 136.7,205.0 136.8,206.0 136.8,207.0 136.8,208.0 136.8,209.0 136.7,210.0 136.7,211.0 136.6,212.0 136.5,213.0 136.4,214.0 136.2,215.0 136.1,216.0" stroke="#EB6235" stroke-width="1.5" stroke-dasharray="3.1,2.6"/>
</g></g>
<g clip-path="url(#cpb)">
<path d="M261.6,32.4 398.9,147.6 400.4,148.9 401.9,150.2 403.4,151.4 404.9,152.7 406.4,154.0 407.9,155.2 409.4,156.5 410.9,157.8 412.4,159.0 413.9,160.3 415.4,161.6 416.9,162.9 418.4,164.2 419.9,165.5 421.4,166.8 422.9,168.1 424.4,169.5 425.9,170.8 427.4,172.2 428.9,173.6 430.4,175.0 431.9,176.5 432.5,177.1 433.1,177.7 433.7,178.3 434.3,179.0 434.9,179.6 435.5,180.3 436.1,180.9 436.7,181.6 437.3,182.3 437.9,183.0 438.5,183.7 439.1,184.5 439.7,185.2 440.3,186.0 440.9,186.8 441.5,187.7 442.1,188.6 442.7,189.5 443.3,190.4 443.9,191.4 444.5,192.5 445.1,193.6 445.7,194.8 446.3,196.1 446.9,197.5 447.1,197.8 447.2,198.2 447.4,198.5 447.5,198.9 447.7,199.3 447.8,199.7 448.0,200.1 448.1,200.5 448.3,200.9 448.4,201.4 448.6,201.8 448.7,202.3 448.9,202.7 449.0,203.2 449.2,203.7 449.3,204.2 449.5,204.7 449.6,205.3 449.8,205.8 449.9,206.4 450.1,207.0 450.2,207.6 450.4,208.2 450.5,208.8 450.7,209.5 450.8,210.2 451.0,210.9 451.1,211.7 451.3,212.5 451.4,213.3 451.6,214.2 451.7,215.1 451.9,216.0 452.0,217.0 452.0,218.2 410.1,218.2 410.1,216.2 409.9,215.4 409.8,214.6 409.6,213.8 409.5,213.1 409.3,212.4 409.2,211.7 409.0,211.0 408.9,210.4 408.7,209.8 408.6,209.2 408.4,208.6 408.3,208.0 408.1,207.5 408.0,207.0 407.8,206.4 407.7,205.9 407.5,205.4 407.4,205.0 407.2,204.5 407.1,204.0 406.9,203.6 406.8,203.1 406.6,202.7 406.5,202.3 406.3,201.9 406.2,201.5 406.0,201.1 405.9,200.7 405.7,200.3 405.6,200.0 405.4,199.6 405.3,199.2 405.1,198.9 405.0,198.5 404.8,198.2 404.7,197.8 404.5,197.5 404.4,197.2 404.2,196.9 404.1,196.6 403.9,196.2 403.8,195.9 403.2,194.7 402.6,193.6 402.0,192.5 401.4,191.5 400.8,190.5 400.2,189.6 399.6,188.7 399.0,187.8 398.4,187.0 397.8,186.1 397.2,185.3 396.6,184.6 396.0,183.8 395.4,183.1 394.8,182.3 394.2,181.6 393.6,180.9 393.0,180.2 392.4,179.6 391.8,178.9 391.2,178.3 390.6,177.6 390.0,177.0 389.4,176.4 388.8,175.7 388.2,175.1 387.6,174.5 387.0,173.9 386.4,173.3 385.8,172.8 385.2,172.2 384.6,171.6 384.0,171.0 382.5,169.6 381.0,168.2 379.5,166.9 378.0,165.5 376.5,164.2 375.0,162.8 373.5,161.5 372.0,160.2 370.5,158.9 369.0,157.6 367.5,156.3 366.0,155.0 364.5,153.8 363.0,152.5 361.5,151.2 360.0,149.9 358.5,148.6 357.0,147.4 355.5,146.1 354.0,144.8 352.5,143.6 351.0,142.3 349.5,141.0 348.0,139.8 346.5,138.5 345.0,137.2 343.5,136.0 261.6,67.2Z" fill="#E19C24" fill-opacity="0.2"/>
<path d="M261.6,28.1 386.2,132.7 387.7,133.9 389.2,135.2 390.7,136.5 392.2,137.7 393.7,139.0 395.2,140.3 396.7,141.5 398.2,142.8 399.7,144.1 401.2,145.3 402.7,146.6 404.2,147.9 405.7,149.1 407.2,150.4 408.7,151.7 410.2,153.0 411.7,154.3 413.2,155.6 414.7,156.9 416.2,158.2 417.7,159.5 419.2,160.8 420.7,162.2 422.2,163.5 423.7,164.9 425.2,166.3 426.7,167.7 427.3,168.3 427.9,168.8 428.5,169.4 429.1,170.0 429.7,170.6 430.3,171.2 430.9,171.8 431.5,172.4 432.1,173.0 432.7,173.6 433.3,174.3 433.9,174.9 434.5,175.6 435.1,176.2 435.7,176.9 436.3,177.6 436.9,178.3 437.5,179.0 438.1,179.7 438.7,180.4 439.3,181.2 439.9,182.0 440.5,182.8 441.1,183.6 441.7,184.5 442.3,185.3 442.9,186.2 443.5,187.2 444.1,188.2 444.7,189.2 445.3,190.3 445.9,191.4 446.5,192.6 446.7,192.9 446.8,193.2 447.0,193.5 447.1,193.8 447.3,194.1 447.4,194.5 447.6,194.8 447.7,195.2 447.9,195.5 448.0,195.9 448.2,196.2 448.3,196.6 448.5,197.0 448.6,197.3 448.8,197.7 448.9,198.1 449.1,198.5 449.2,198.9 449.4,199.4 449.5,199.8 449.7,200.2 449.8,200.7 450.0,201.1 450.1,201.6 450.3,202.1 450.4,202.6 450.6,203.1 450.7,203.6 450.9,204.1 451.0,204.7 451.2,205.2 451.3,205.8 451.5,206.4 451.6,207.0 451.8,207.7 451.9,208.3 452.1,209.0 452.2,209.7 452.4,210.5 452.5,211.2 452.7,212.0 452.8,212.9 453.0,213.7 453.1,214.6 453.3,215.6 453.4,216.6 453.4,218.2 411.0,218.2 411.0,216.9 410.9,216.1 410.7,215.2 410.6,214.4 410.4,213.7 410.3,212.9 410.1,212.2 410.0,211.5 409.8,210.9 409.7,210.2 409.5,209.6 409.4,209.0 409.2,208.4 409.1,207.9 408.9,207.3 408.8,206.8 408.6,206.3 408.5,205.8 408.3,205.3 408.2,204.8 408.0,204.3 407.9,203.9 407.7,203.4 407.6,203.0 407.4,202.6 407.3,202.1 407.1,201.7 407.0,201.3 406.8,200.9 406.7,200.5 406.5,200.2 406.4,199.8 406.2,199.4 406.1,199.1 405.9,198.7 405.8,198.4 405.6,198.0 405.5,197.7 405.3,197.4 405.2,197.0 405.0,196.7 404.9,196.4 404.7,196.1 404.6,195.8 404.0,194.6 403.4,193.5 402.8,192.4 402.2,191.4 401.6,190.4 401.0,189.4 400.4,188.5 399.8,187.7 399.2,186.8 398.6,186.0 398.0,185.2 397.4,184.4 396.8,183.6 396.2,182.9 395.6,182.2 395.0,181.5 394.4,180.8 393.8,180.1 393.2,179.4 392.6,178.8 392.0,178.1 391.4,177.5 390.8,176.8 390.2,176.2 389.6,175.6 389.0,175.0 388.4,174.4 387.8,173.8 387.2,173.2 386.6,172.6 386.0,172.0 385.4,171.5 384.8,170.9 383.3,169.5 381.8,168.1 380.3,166.7 378.8,165.4 377.3,164.0 375.8,162.7 374.3,161.4 372.8,160.1 371.3,158.8 369.8,157.5 368.3,156.2 366.8,154.9 365.3,153.6 363.8,152.3 362.3,151.0 360.8,149.8 359.3,148.5 357.8,147.2 356.3,146.0 354.8,144.7 353.3,143.4 351.8,142.1 350.3,140.9 348.8,139.6 347.3,138.4 345.8,137.1 344.3,135.8 261.6,66.4Z" fill="#8FB032" fill-opacity="0.2"/>
<g fill="none" stroke-linejoin="round">
<path d="M261.6,67.2 343.5,136.0 345.0,137.2 346.5,138.5 348.0,139.8 349.5,141.0 351.0,142.3 352.5,143.6 354.0,144.8 355.5,146.1 357.0,147.4 358.5,148.6 360.0,149.9 361.5,151.2 363.0,152.5 364.5,153.8 366.0,155.0 367.5,156.3 369.0,157.6 370.5,158.9 372.0,160.2 373.5,161.5 375.0,162.8 376.5,164.2 378.0,165.5 379.5,166.9 381.0,168.2 382.5,169.6 384.0,171.0 384.6,171.6 385.2,172.2 385.8,172.8 386.4,173.3 387.0,173.9 387.6,174.5 388.2,175.1 388.8,175.7 389.4,176.4 390.0,177.0 390.6,177.6 391.2,178.3 391.8,178.9 392.4,179.6 393.0,180.2 393.6,180.9 394.2,181.6 394.8,182.3 395.4,183.1 396.0,183.8 396.6,184.6 397.2,185.3 397.8,186.1 398.4,187.0 399.0,187.8 399.6,188.7 400.2,189.6 400.8,190.5 401.4,191.5 402.0,192.5 402.6,193.6 403.2,194.7 403.8,195.9 403.9,196.2 404.1,196.6 404.2,196.9 404.4,197.2 404.5,197.5 404.7,197.8 404.8,198.2 405.0,198.5 405.1,198.9 405.3,199.2 405.4,199.6 405.6,200.0 405.7,200.3 405.9,200.7 406.0,201.1 406.2,201.5 406.3,201.9 406.5,202.3 406.6,202.7 406.8,203.1 406.9,203.6 407.1,204.0 407.2,204.5 407.4,205.0 407.5,205.4 407.7,205.9 407.8,206.4 408.0,207.0 408.1,207.5 408.3,208.0 408.4,208.6 408.6,209.2 408.7,209.8 408.9,210.4 409.0,211.0 409.2,211.7 409.3,212.4 409.5,213.1 409.6,213.8 409.8,214.6 409.9,215.4 410.1,216.2" stroke="#E19C24" stroke-width="1.45"/>
<path d="M261.6,66.4 344.3,135.8 345.8,137.1 347.3,138.4 348.8,139.6 350.3,140.9 351.8,142.1 353.3,143.4 354.8,144.7 356.3,146.0 357.8,147.2 359.3,148.5 360.8,149.8 362.3,151.0 363.8,152.3 365.3,153.6 366.8,154.9 368.3,156.2 369.8,157.5 371.3,158.8 372.8,160.1 374.3,161.4 375.8,162.7 377.3,164.0 378.8,165.4 380.3,166.7 381.8,168.1 383.3,169.5 384.8,170.9 385.4,171.5 386.0,172.0 386.6,172.6 387.2,173.2 387.8,173.8 388.4,174.4 389.0,175.0 389.6,175.6 390.2,176.2 390.8,176.8 391.4,177.5 392.0,178.1 392.6,178.8 393.2,179.4 393.8,180.1 394.4,180.8 395.0,181.5 395.6,182.2 396.2,182.9 396.8,183.6 397.4,184.4 398.0,185.2 398.6,186.0 399.2,186.8 399.8,187.7 400.4,188.5 401.0,189.4 401.6,190.4 402.2,191.4 402.8,192.4 403.4,193.5 404.0,194.6 404.6,195.8 404.7,196.1 404.9,196.4 405.0,196.7 405.2,197.0 405.3,197.4 405.5,197.7 405.6,198.0 405.8,198.4 405.9,198.7 406.1,199.1 406.2,199.4 406.4,199.8 406.5,200.2 406.7,200.5 406.8,200.9 407.0,201.3 407.1,201.7 407.3,202.1 407.4,202.6 407.6,203.0 407.7,203.4 407.9,203.9 408.0,204.3 408.2,204.8 408.3,205.3 408.5,205.8 408.6,206.3 408.8,206.8 408.9,207.3 409.1,207.9 409.2,208.4 409.4,209.0 409.5,209.6 409.7,210.2 409.8,210.9 410.0,211.5 410.1,212.2 410.3,212.9 410.4,213.7 410.6,214.4 410.7,215.2 410.9,216.1 411.0,216.9" stroke="#8FB032" stroke-width="1.45"/>
<path d="M261.6,48.0 357.7,128.7 359.2,130.0 360.7,131.2 362.2,132.5 363.7,133.7 365.2,135.0 366.7,136.3 368.2,137.5 369.7,138.8 371.2,140.1 372.7,141.4 374.2,142.6 375.7,143.9 377.2,145.2 378.7,146.5 380.2,147.7 381.7,149.0 383.2,150.3 384.7,151.6 386.2,152.9 387.7,154.2 389.2,155.5 390.7,156.9 392.2,158.2 393.7,159.6 395.2,160.9 396.7,162.3 398.2,163.7 398.8,164.3 399.4,164.9 400.0,165.5 400.6,166.0 401.2,166.6 401.8,167.2 402.4,167.8 403.0,168.4 403.6,169.1 404.2,169.7 404.8,170.3 405.4,170.9 406.0,171.6 406.6,172.3 407.2,172.9 407.8,173.6 408.4,174.3 409.0,175.0 409.6,175.7 410.2,176.5 410.8,177.2 411.4,178.0 412.0,178.8 412.6,179.6 413.2,180.5 413.8,181.4 414.4,182.3 415.0,183.2 415.6,184.2 416.2,185.2 416.8,186.3 417.4,187.4 418.0,188.6 418.2,188.9 418.3,189.2 418.5,189.6 418.6,189.9 418.8,190.2 418.9,190.5 419.1,190.9 419.2,191.2 419.4,191.6 419.5,191.9 419.7,192.3 419.8,192.6 420.0,193.0 420.1,193.4 420.3,193.8 420.4,194.2 420.6,194.6 420.7,195.0 420.9,195.4 421.0,195.8 421.2,196.3 421.3,196.7 421.5,197.2 421.6,197.6 421.8,198.1 421.9,198.6 422.1,199.1 422.2,199.6 422.4,200.2 422.5,200.7 422.7,201.3 422.8,201.9 423.0,202.5 423.1,203.1 423.3,203.7 423.4,204.4 423.6,205.1 423.7,205.8 423.9,206.5 424.0,207.3 424.2,208.1 424.3,208.9 424.5,209.8 424.6,210.7 424.8,211.6 424.9,212.6 425.1,213.7 425.2,214.8 425.4,216.0 425.5,217.3" stroke="#E19C24" stroke-width="1.0"/>
<path d="M261.6,42.8 365.4,129.9 366.9,131.2 368.4,132.5 369.9,133.7 371.4,135.0 372.9,136.2 374.4,137.5 375.9,138.8 377.4,140.0 378.9,141.3 380.4,142.6 381.9,143.9 383.4,145.1 384.9,146.4 386.4,147.7 387.9,149.0 389.4,150.3 390.9,151.5 392.4,152.8 393.9,154.1 395.4,155.5 396.9,156.8 398.4,158.1 399.9,159.4 401.4,160.8 402.9,162.2 404.4,163.5 405.9,165.0 406.5,165.5 407.1,166.1 407.7,166.7 408.3,167.3 408.9,167.9 409.5,168.5 410.1,169.1 410.7,169.7 411.3,170.3 411.9,170.9 412.5,171.5 413.1,172.2 413.7,172.8 414.3,173.5 414.9,174.2 415.5,174.8 416.1,175.5 416.7,176.2 417.3,177.0 417.9,177.7 418.5,178.5 419.1,179.2 419.7,180.0 420.3,180.9 420.9,181.7 421.5,182.6 422.1,183.5 422.7,184.5 423.3,185.4 423.9,186.5 424.5,187.5 425.1,188.7 425.7,189.8 425.9,190.1 426.0,190.5 426.2,190.8 426.3,191.1 426.5,191.4 426.6,191.8 426.8,192.1 426.9,192.4 427.1,192.8 427.2,193.1 427.4,193.5 427.5,193.9 427.7,194.2 427.8,194.6 428.0,195.0 428.1,195.4 428.3,195.8 428.4,196.2 428.6,196.6 428.7,197.1 428.9,197.5 429.0,197.9 429.2,198.4 429.3,198.9 429.5,199.3 429.6,199.8 429.8,200.3 429.9,200.9 430.1,201.4 430.2,201.9 430.4,202.5 430.5,203.1 430.7,203.7 430.8,204.3 431.0,204.9 431.1,205.6 431.3,206.3 431.4,207.0 431.6,207.7 431.7,208.5 431.9,209.3 432.0,210.1 432.2,211.0 432.3,211.9 432.5,212.9 432.6,213.9 432.8,214.9 432.9,216.1 433.1,217.3" stroke="#E19C24" stroke-width="1.0"/>
<path d="M261.6,38.6 396.6,151.9 398.1,153.2 399.6,154.5 401.1,155.7 402.6,157.0 404.1,158.3 405.6,159.5 407.1,160.8 408.6,162.1 410.1,163.4 411.6,164.6 413.1,165.9 414.6,167.2 416.1,168.5 417.6,169.8 419.1,171.1 420.6,172.5 422.1,173.8 423.6,175.1 425.1,176.5 426.6,177.9 428.1,179.4 429.6,180.8 430.2,181.4 430.8,182.0 431.4,182.7 432.0,183.3 432.6,183.9 433.2,184.6 433.8,185.2 434.4,185.9 435.0,186.6 435.6,187.3 436.2,188.0 436.8,188.8 437.4,189.5 438.0,190.3 438.6,191.2 439.2,192.0 439.8,192.9 440.4,193.8 441.0,194.8 441.6,195.8 442.2,196.8 442.8,197.9 443.4,199.1 444.0,200.4 444.6,201.8 444.8,202.1 444.9,202.5 445.1,202.9 445.2,203.2 445.4,203.6 445.5,204.0 445.7,204.4 445.8,204.8 446.0,205.3 446.1,205.7 446.3,206.1 446.4,206.6 446.6,207.1 446.7,207.5 446.9,208.0 447.0,208.5 447.2,209.1 447.3,209.6 447.5,210.1 447.6,210.7 447.8,211.3 447.9,211.9 448.1,212.5 448.2,213.2 448.4,213.8 448.5,214.5 448.7,215.3 448.8,216.0 449.0,216.8" stroke="#E19C24" stroke-width="1.0"/>
<path d="M261.6,37.1 397.2,150.8 398.7,152.1 400.2,153.4 401.7,154.6 403.2,155.9 404.7,157.2 406.2,158.4 407.7,159.7 409.2,161.0 410.7,162.3 412.2,163.5 413.7,164.8 415.2,166.1 416.7,167.4 418.2,168.7 419.7,170.0 421.2,171.4 422.7,172.7 424.2,174.0 425.7,175.4 427.2,176.8 428.7,178.3 430.2,179.7 430.8,180.3 431.4,180.9 432.0,181.6 432.6,182.2 433.2,182.8 433.8,183.5 434.4,184.1 435.0,184.8 435.6,185.5 436.2,186.2 436.8,186.9 437.4,187.7 438.0,188.4 438.6,189.2 439.2,190.1 439.8,190.9 440.4,191.8 441.0,192.7 441.6,193.7 442.2,194.7 442.8,195.7 443.4,196.9 444.0,198.0 444.6,199.3 445.2,200.7 445.3,201.0 445.5,201.4 445.6,201.8 445.8,202.1 445.9,202.5 446.1,202.9 446.2,203.3 446.4,203.7 446.5,204.2 446.7,204.6 446.8,205.0 447.0,205.5 447.1,206.0 447.3,206.4 447.4,206.9 447.6,207.4 447.7,208.0 447.9,208.5 448.0,209.0 448.2,209.6 448.3,210.2 448.5,210.8 448.6,211.4 448.8,212.1 448.9,212.7 449.1,213.4 449.2,214.2 449.4,214.9 449.5,215.7 449.7,216.5" stroke="#E19C24" stroke-width="1.0"/>
<path d="M261.6,35.5 397.7,149.8 399.2,151.0 400.7,152.3 402.2,153.6 403.7,154.8 405.2,156.1 406.7,157.4 408.2,158.6 409.7,159.9 411.2,161.2 412.7,162.5 414.2,163.7 415.7,165.0 417.2,166.3 418.7,167.6 420.2,168.9 421.7,170.3 423.2,171.6 424.7,173.0 426.2,174.3 427.7,175.7 429.2,177.2 430.7,178.6 431.3,179.2 431.9,179.9 432.5,180.5 433.1,181.1 433.7,181.7 434.3,182.4 434.9,183.1 435.5,183.7 436.1,184.4 436.7,185.1 437.3,185.8 437.9,186.6 438.5,187.4 439.1,188.2 439.7,189.0 440.3,189.8 440.9,190.7 441.5,191.6 442.1,192.6 442.7,193.6 443.3,194.6 443.9,195.8 444.5,197.0 445.1,198.2 445.7,199.6 445.9,199.9 446.0,200.3 446.2,200.7 446.3,201.1 446.5,201.4 446.6,201.8 446.8,202.2 446.9,202.7 447.1,203.1 447.2,203.5 447.4,204.0 447.5,204.4 447.7,204.9 447.8,205.4 448.0,205.8 448.1,206.3 448.3,206.9 448.4,207.4 448.6,207.9 448.7,208.5 448.9,209.1 449.0,209.7 449.2,210.3 449.3,211.0 449.5,211.7 449.6,212.3 449.8,213.1 449.9,213.8 450.1,214.6 450.2,215.4 450.4,216.3" stroke="#E19C24" stroke-width="1.0"/>
<path d="M261.6,33.9 398.3,148.7 399.8,150.0 401.3,151.2 402.8,152.5 404.3,153.7 405.8,155.0 407.3,156.3 408.8,157.6 410.3,158.8 411.8,160.1 413.3,161.4 414.8,162.7 416.3,164.0 417.8,165.3 419.3,166.6 420.8,167.9 422.3,169.2 423.8,170.5 425.3,171.9 426.8,173.3 428.3,174.7 429.8,176.1 431.3,177.6 431.9,178.2 432.5,178.8 433.1,179.4 433.7,180.0 434.3,180.7 434.9,181.3 435.5,182.0 436.1,182.7 436.7,183.3 437.3,184.1 437.9,184.8 438.5,185.5 439.1,186.3 439.7,187.1 440.3,187.9 440.9,188.7 441.5,189.6 442.1,190.5 442.7,191.5 443.3,192.5 443.9,193.6 444.5,194.7 445.1,195.9 445.7,197.2 446.3,198.5 446.5,198.9 446.6,199.2 446.8,199.6 446.9,200.0 447.1,200.4 447.2,200.8 447.4,201.2 447.5,201.6 447.7,202.0 447.8,202.4 448.0,202.9 448.1,203.3 448.3,203.8 448.4,204.3 448.6,204.8 448.7,205.3 448.9,205.8 449.0,206.3 449.2,206.9 449.3,207.4 449.5,208.0 449.6,208.6 449.8,209.3 449.9,209.9 450.1,210.6 450.2,211.3 450.4,212.0 450.5,212.8 450.7,213.5 450.8,214.4 451.0,215.2 451.1,216.1 451.3,217.1" stroke="#E19C24" stroke-width="1.0"/>
<path d="M261.6,32.4 398.9,147.6 400.4,148.9 401.9,150.2 403.4,151.4 404.9,152.7 406.4,154.0 407.9,155.2 409.4,156.5 410.9,157.8 412.4,159.0 413.9,160.3 415.4,161.6 416.9,162.9 418.4,164.2 419.9,165.5 421.4,166.8 422.9,168.1 424.4,169.5 425.9,170.8 427.4,172.2 428.9,173.6 430.4,175.0 431.9,176.5 432.5,177.1 433.1,177.7 433.7,178.3 434.3,179.0 434.9,179.6 435.5,180.3 436.1,180.9 436.7,181.6 437.3,182.3 437.9,183.0 438.5,183.7 439.1,184.5 439.7,185.2 440.3,186.0 440.9,186.8 441.5,187.7 442.1,188.6 442.7,189.5 443.3,190.4 443.9,191.4 444.5,192.5 445.1,193.6 445.7,194.8 446.3,196.1 446.9,197.5 447.1,197.8 447.2,198.2 447.4,198.5 447.5,198.9 447.7,199.3 447.8,199.7 448.0,200.1 448.1,200.5 448.3,200.9 448.4,201.4 448.6,201.8 448.7,202.3 448.9,202.7 449.0,203.2 449.2,203.7 449.3,204.2 449.5,204.7 449.6,205.3 449.8,205.8 449.9,206.4 450.1,207.0 450.2,207.6 450.4,208.2 450.5,208.8 450.7,209.5 450.8,210.2 451.0,210.9 451.1,211.7 451.3,212.5 451.4,213.3 451.6,214.2 451.7,215.1 451.9,216.0 452.0,217.0" stroke="#E19C24" stroke-width="1.0"/>
<path d="M261.6,40.8 371.3,132.9 372.8,134.1 374.3,135.4 375.8,136.6 377.3,137.9 378.8,139.2 380.3,140.4 381.8,141.7 383.3,143.0 384.8,144.2 386.3,145.5 387.8,146.8 389.3,148.1 390.8,149.3 392.3,150.6 393.8,151.9 395.3,153.2 396.8,154.5 398.3,155.8 399.8,157.1 401.3,158.4 402.8,159.7 404.3,161.0 405.8,162.4 407.3,163.7 408.8,165.1 410.3,166.5 411.8,167.9 412.4,168.5 413.0,169.0 413.6,169.6 414.2,170.2 414.8,170.8 415.4,171.4 416.0,172.0 416.6,172.6 417.2,173.2 417.8,173.8 418.4,174.5 419.0,175.1 419.6,175.7 420.2,176.4 420.8,177.1 421.4,177.8 422.0,178.5 422.6,179.2 423.2,179.9 423.8,180.6 424.4,181.4 425.0,182.2 425.6,183.0 426.2,183.8 426.8,184.6 427.4,185.5 428.0,186.4 428.6,187.4 429.2,188.4 429.8,189.4 430.4,190.5 431.0,191.6 431.6,192.8 431.7,193.1 431.9,193.4 432.0,193.7 432.2,194.0 432.3,194.3 432.5,194.7 432.6,195.0 432.8,195.4 432.9,195.7 433.1,196.1 433.2,196.4 433.4,196.8 433.5,197.2 433.7,197.5 433.8,197.9 434.0,198.3 434.1,198.7 434.3,199.1 434.4,199.6 434.6,200.0 434.7,200.4 434.9,200.9 435.0,201.3 435.2,201.8 435.3,202.3 435.5,202.8 435.6,203.3 435.8,203.8 435.9,204.3 436.1,204.9 436.2,205.4 436.4,206.0 436.5,206.6 436.7,207.2 436.8,207.9 437.0,208.5 437.1,209.2 437.3,209.9 437.4,210.7 437.6,211.4 437.7,212.2 437.9,213.1 438.0,213.9 438.2,214.8 438.3,215.8 438.5,216.8" stroke="#8FB032" stroke-width="1.0"/>
<path d="M261.6,37.8 363.7,123.5 365.2,124.8 366.7,126.0 368.2,127.3 369.7,128.6 371.2,129.8 372.7,131.1 374.2,132.4 375.7,133.6 377.2,134.9 378.7,136.1 380.2,137.4 381.7,138.7 383.2,139.9 384.7,141.2 386.2,142.5 387.7,143.8 389.2,145.0 390.7,146.3 392.2,147.6 393.7,148.9 395.2,150.2 396.7,151.4 398.2,152.7 399.7,154.0 401.2,155.3 402.7,156.6 404.2,158.0 405.7,159.3 407.2,160.6 408.7,162.0 410.2,163.3 411.7,164.7 412.3,165.2 412.9,165.8 413.5,166.3 414.1,166.9 414.7,167.5 415.3,168.0 415.9,168.6 416.5,169.2 417.1,169.7 417.7,170.3 418.3,170.9 418.9,171.5 419.5,172.1 420.1,172.7 420.7,173.3 421.3,173.9 421.9,174.5 422.5,175.1 423.1,175.7 423.7,176.4 424.3,177.0 424.9,177.7 425.5,178.3 426.1,179.0 426.7,179.7 427.3,180.4 427.9,181.1 428.5,181.8 429.1,182.5 429.7,183.3 430.3,184.0 430.9,184.8 431.5,185.6 432.1,186.4 432.7,187.3 433.3,188.1 433.9,189.0 434.5,190.0 435.1,190.9 435.7,191.9 435.8,192.1 436.0,192.4 436.1,192.7 436.3,192.9 436.4,193.2 436.6,193.5 436.7,193.7 436.9,194.0 437.0,194.3 437.2,194.6 437.3,194.8 437.5,195.1 437.6,195.4 437.8,195.7 437.9,196.0 438.1,196.3 438.2,196.6 438.4,196.9 438.5,197.2 438.7,197.6 438.8,197.9 439.0,198.2 439.1,198.5 439.3,198.9 439.4,199.2 439.6,199.6 439.7,199.9 439.9,200.3 440.0,200.6 440.2,201.0 440.3,201.4 440.5,201.8 440.6,202.2 440.8,202.6 440.9,203.0 441.1,203.4 441.2,203.8 441.4,204.3 441.5,204.7 441.7,205.2 441.8,205.6 442.0,206.1 442.1,206.6 442.3,207.1 442.4,207.6 442.6,208.1 442.7,208.7 442.9,209.2 443.0,209.8 443.2,210.4 443.3,211.0 443.5,211.7 443.6,212.3 443.8,213.0 443.9,213.7 444.1,214.4 444.2,215.2 444.4,216.0 444.5,216.8" stroke="#8FB032" stroke-width="1.0"/>
<path d="M261.6,36.3 364.2,122.4 365.7,123.7 367.2,125.0 368.7,126.2 370.2,127.5 371.7,128.7 373.2,130.0 374.7,131.3 376.2,132.5 377.7,133.8 379.2,135.1 380.7,136.3 382.2,137.6 383.7,138.9 385.2,140.1 386.7,141.4 388.2,142.7 389.7,144.0 391.2,145.2 392.7,146.5 394.2,147.8 395.7,149.1 397.2,150.4 398.7,151.7 400.2,153.0 401.7,154.3 403.2,155.6 404.7,156.9 406.2,158.2 407.7,159.5 409.2,160.9 410.7,162.2 412.2,163.6 412.8,164.1 413.4,164.7 414.0,165.2 414.6,165.8 415.2,166.4 415.8,166.9 416.4,167.5 417.0,168.1 417.6,168.6 418.2,169.2 418.8,169.8 419.4,170.4 420.0,171.0 420.6,171.6 421.2,172.2 421.8,172.8 422.4,173.4 423.0,174.0 423.6,174.7 424.2,175.3 424.8,175.9 425.4,176.6 426.0,177.3 426.6,177.9 427.2,178.6 427.8,179.3 428.4,180.0 429.0,180.7 429.6,181.4 430.2,182.2 430.8,183.0 431.4,183.7 432.0,184.5 432.6,185.3 433.2,186.2 433.8,187.1 434.4,187.9 435.0,188.9 435.6,189.8 436.2,190.8 436.4,191.1 436.5,191.3 436.7,191.6 436.8,191.8 437.0,192.1 437.1,192.4 437.3,192.6 437.4,192.9 437.6,193.2 437.7,193.5 437.9,193.8 438.0,194.0 438.2,194.3 438.3,194.6 438.5,194.9 438.6,195.2 438.8,195.5 438.9,195.8 439.1,196.1 439.2,196.5 439.4,196.8 439.5,197.1 439.7,197.4 439.8,197.8 440.0,198.1 440.1,198.5 440.3,198.8 440.4,199.2 440.6,199.6 440.7,199.9 440.9,200.3 441.0,200.7 441.2,201.1 441.3,201.5 441.5,201.9 441.6,202.3 441.8,202.7 441.9,203.2 442.1,203.6 442.2,204.1 442.4,204.5 442.5,205.0 442.7,205.5 442.8,206.0 443.0,206.5 443.1,207.1 443.3,207.6 443.4,208.2 443.6,208.7 443.7,209.3 443.9,209.9 444.0,210.6 444.2,211.2 444.3,211.9 444.5,212.6 444.6,213.3 444.8,214.1 444.9,214.9 445.1,215.7 445.2,216.6" stroke="#8FB032" stroke-width="1.0"/>
<path d="M261.6,34.7 364.8,121.4 366.3,122.6 367.8,123.9 369.3,125.1 370.8,126.4 372.3,127.7 373.8,128.9 375.3,130.2 376.8,131.5 378.3,132.7 379.8,134.0 381.3,135.3 382.8,136.5 384.3,137.8 385.8,139.1 387.3,140.3 388.8,141.6 390.3,142.9 391.8,144.2 393.3,145.4 394.8,146.7 396.3,148.0 397.8,149.3 399.3,150.6 400.8,151.9 402.3,153.2 403.8,154.5 405.3,155.8 406.8,157.1 408.3,158.5 409.8,159.8 411.3,161.1 412.8,162.5 413.4,163.1 414.0,163.6 414.6,164.2 415.2,164.7 415.8,165.3 416.4,165.9 417.0,166.4 417.6,167.0 418.2,167.6 418.8,168.2 419.4,168.7 420.0,169.3 420.6,169.9 421.2,170.5 421.8,171.1 422.4,171.7 423.0,172.3 423.6,173.0 424.2,173.6 424.8,174.2 425.4,174.9 426.0,175.5 426.6,176.2 427.2,176.9 427.8,177.5 428.4,178.2 429.0,178.9 429.6,179.6 430.2,180.4 430.8,181.1 431.4,181.9 432.0,182.7 432.6,183.5 433.2,184.3 433.8,185.1 434.4,186.0 435.0,186.9 435.6,187.8 436.2,188.7 436.8,189.7 437.0,190.0 437.1,190.2 437.3,190.5 437.4,190.8 437.6,191.0 437.7,191.3 437.9,191.6 438.0,191.8 438.2,192.1 438.3,192.4 438.5,192.7 438.6,193.0 438.8,193.3 438.9,193.5 439.1,193.8 439.2,194.1 439.4,194.5 439.5,194.8 439.7,195.1 439.8,195.4 440.0,195.7 440.1,196.0 440.3,196.4 440.4,196.7 440.6,197.1 440.7,197.4 440.9,197.8 441.0,198.1 441.2,198.5 441.3,198.9 441.5,199.2 441.6,199.6 441.8,200.0 441.9,200.4 442.1,200.8 442.2,201.2 442.4,201.7 442.5,202.1 442.7,202.6 442.8,203.0 443.0,203.5 443.1,203.9 443.3,204.4 443.4,204.9 443.6,205.5 443.7,206.0 443.9,206.5 444.0,207.1 444.2,207.7 444.3,208.3 444.5,208.9 444.6,209.5 444.8,210.2 444.9,210.8 445.1,211.5 445.2,212.3 445.4,213.0 445.5,213.8 445.7,214.7 445.8,215.5 446.0,216.4" stroke="#8FB032" stroke-width="1.0"/>
<path d="M261.6,33.2 365.4,120.3 366.9,121.6 368.4,122.8 369.9,124.1 371.4,125.4 372.9,126.6 374.4,127.9 375.9,129.1 377.4,130.4 378.9,131.7 380.4,132.9 381.9,134.2 383.4,135.5 384.9,136.7 386.4,138.0 387.9,139.3 389.4,140.5 390.9,141.8 392.4,143.1 393.9,144.4 395.4,145.7 396.9,146.9 398.4,148.2 399.9,149.5 401.4,150.8 402.9,152.1 404.4,153.4 405.9,154.7 407.4,156.1 408.9,157.4 410.4,158.7 411.9,160.1 413.4,161.5 414.0,162.0 414.6,162.6 415.2,163.1 415.8,163.7 416.4,164.2 417.0,164.8 417.6,165.4 418.2,165.9 418.8,166.5 419.4,167.1 420.0,167.7 420.6,168.3 421.2,168.9 421.8,169.5 422.4,170.1 423.0,170.7 423.6,171.3 424.2,171.9 424.8,172.5 425.4,173.2 426.0,173.8 426.6,174.5 427.2,175.1 427.8,175.8 428.4,176.5 429.0,177.2 429.6,177.9 430.2,178.6 430.8,179.3 431.4,180.1 432.0,180.8 432.6,181.6 433.2,182.4 433.8,183.2 434.4,184.1 435.0,184.9 435.6,185.8 436.2,186.7 436.8,187.7 437.4,188.7 437.6,188.9 437.7,189.2 437.9,189.4 438.0,189.7 438.2,190.0 438.3,190.2 438.5,190.5 438.6,190.8 438.8,191.1 438.9,191.3 439.1,191.6 439.2,191.9 439.4,192.2 439.5,192.5 439.7,192.8 439.8,193.1 440.0,193.4 440.1,193.7 440.3,194.0 440.4,194.3 440.6,194.7 440.7,195.0 440.9,195.3 441.0,195.7 441.2,196.0 441.3,196.3 441.5,196.7 441.6,197.1 441.8,197.4 441.9,197.8 442.1,198.2 442.2,198.6 442.4,199.0 442.5,199.4 442.7,199.8 442.8,200.2 443.0,200.6 443.1,201.0 443.3,201.5 443.4,201.9 443.6,202.4 443.7,202.9 443.9,203.4 444.0,203.9 444.2,204.4 444.3,204.9 444.5,205.5 444.6,206.0 444.8,206.6 444.9,207.2 445.1,207.8 445.2,208.4 445.4,209.1 445.5,209.8 445.7,210.5 445.8,211.2 446.0,212.0 446.1,212.8 446.3,213.6 446.4,214.5 446.6,215.4 446.7,216.3" stroke="#8FB032" stroke-width="1.0"/>
<path d="M261.6,31.7 365.5,118.9 367.0,120.1 368.5,121.4 370.0,122.6 371.5,123.9 373.0,125.2 374.5,126.4 376.0,127.7 377.5,129.0 379.0,130.2 380.5,131.5 382.0,132.8 383.5,134.0 385.0,135.3 386.5,136.6 388.0,137.8 389.5,139.1 391.0,140.4 392.5,141.7 394.0,142.9 395.5,144.2 397.0,145.5 398.5,146.8 400.0,148.1 401.5,149.4 403.0,150.7 404.5,152.0 406.0,153.3 407.5,154.6 409.0,156.0 410.5,157.3 412.0,158.6 413.5,160.0 414.1,160.6 414.7,161.1 415.3,161.7 415.9,162.2 416.5,162.8 417.1,163.4 417.7,163.9 418.3,164.5 418.9,165.1 419.5,165.6 420.1,166.2 420.7,166.8 421.3,167.4 421.9,168.0 422.5,168.6 423.1,169.2 423.7,169.8 424.3,170.5 424.9,171.1 425.5,171.7 426.1,172.4 426.7,173.0 427.3,173.7 427.9,174.3 428.5,175.0 429.1,175.7 429.7,176.4 430.3,177.1 430.9,177.9 431.5,178.6 432.1,179.4 432.7,180.2 433.3,180.9 433.9,181.8 434.5,182.6 435.1,183.5 435.7,184.4 436.3,185.3 436.9,186.2 437.5,187.2 437.6,187.5 437.8,187.7 437.9,188.0 438.1,188.3 438.2,188.5 438.4,188.8 438.5,189.1 438.7,189.3 438.8,189.6 439.0,189.9 439.1,190.2 439.3,190.5 439.4,190.7 439.6,191.0 439.7,191.3 439.9,191.6 440.0,191.9 440.2,192.3 440.3,192.6 440.5,192.9 440.6,193.2 440.8,193.5 440.9,193.9 441.1,194.2 441.2,194.5 441.4,194.9 441.5,195.2 441.7,195.6 441.8,196.0 442.0,196.3 442.1,196.7 442.3,197.1 442.4,197.5 442.6,197.9 442.7,198.3 442.9,198.7 443.0,199.2 443.2,199.6 443.3,200.0 443.5,200.5 443.6,201.0 443.8,201.4 443.9,201.9 444.1,202.4 444.2,202.9 444.4,203.5 444.5,204.0 444.7,204.6 444.8,205.2 445.0,205.7 445.1,206.4 445.3,207.0 445.4,207.6 445.6,208.3 445.7,209.0 445.9,209.8 446.0,210.5 446.2,211.3 446.3,212.2 446.5,213.0 446.6,213.9 446.8,214.9 446.9,215.9 447.1,217.0" stroke="#8FB032" stroke-width="1.0"/>
<path d="M261.6,31.1 365.9,118.7 367.4,119.9 368.9,121.2 370.4,122.4 371.9,123.7 373.4,125.0 374.9,126.2 376.4,127.5 377.9,128.7 379.4,130.0 380.9,131.3 382.4,132.5 383.9,133.8 385.4,135.1 386.9,136.3 388.4,137.6 389.9,138.9 391.4,140.2 392.9,141.4 394.4,142.7 395.9,144.0 397.4,145.3 398.9,146.6 400.4,147.9 401.9,149.2 403.4,150.5 404.9,151.8 406.4,153.1 407.9,154.4 409.4,155.7 410.9,157.1 412.4,158.4 413.9,159.8 414.5,160.3 415.1,160.9 415.7,161.5 416.3,162.0 416.9,162.6 417.5,163.1 418.1,163.7 418.7,164.3 419.3,164.9 419.9,165.4 420.5,166.0 421.1,166.6 421.7,167.2 422.3,167.8 422.9,168.4 423.5,169.0 424.1,169.6 424.7,170.2 425.3,170.9 425.9,171.5 426.5,172.1 427.1,172.8 427.7,173.5 428.3,174.1 428.9,174.8 429.5,175.5 430.1,176.2 430.7,176.9 431.3,177.7 431.9,178.4 432.5,179.2 433.1,179.9 433.7,180.7 434.3,181.6 434.9,182.4 435.5,183.3 436.1,184.2 436.7,185.1 437.3,186.0 437.9,187.0 438.1,187.3 438.2,187.5 438.4,187.8 438.5,188.0 438.7,188.3 438.8,188.6 439.0,188.8 439.1,189.1 439.3,189.4 439.4,189.7 439.6,190.0 439.7,190.2 439.9,190.5 440.0,190.8 440.2,191.1 440.3,191.4 440.5,191.7 440.6,192.0 440.8,192.4 440.9,192.7 441.1,193.0 441.2,193.3 441.4,193.7 441.5,194.0 441.7,194.3 441.8,194.7 442.0,195.0 442.1,195.4 442.3,195.8 442.4,196.1 442.6,196.5 442.7,196.9 442.9,197.3 443.0,197.7 443.2,198.1 443.3,198.5 443.5,198.9 443.6,199.4 443.8,199.8 443.9,200.3 444.1,200.8 444.2,201.2 444.4,201.7 444.5,202.2 444.7,202.7 444.8,203.3 445.0,203.8 445.1,204.4 445.3,204.9 445.4,205.5 445.6,206.1 445.7,206.8 445.9,207.4 446.0,208.1 446.2,208.8 446.3,209.6 446.5,210.3 446.6,211.1 446.8,211.9 446.9,212.8 447.1,213.7 447.2,214.7 447.4,215.7 447.5,216.8" stroke="#8FB032" stroke-width="1.0"/>
<path d="M261.6,30.5 366.4,118.4 367.9,119.7 369.4,121.0 370.9,122.2 372.4,123.5 373.9,124.7 375.4,126.0 376.9,127.3 378.4,128.5 379.9,129.8 381.4,131.1 382.9,132.3 384.4,133.6 385.9,134.9 387.4,136.1 388.9,137.4 390.4,138.7 391.9,140.0 393.4,141.2 394.9,142.5 396.4,143.8 397.9,145.1 399.4,146.4 400.9,147.7 402.4,149.0 403.9,150.3 405.4,151.6 406.9,152.9 408.4,154.2 409.9,155.5 411.4,156.9 412.9,158.2 414.4,159.6 415.0,160.1 415.6,160.7 416.2,161.2 416.8,161.8 417.4,162.4 418.0,162.9 418.6,163.5 419.2,164.1 419.8,164.6 420.4,165.2 421.0,165.8 421.6,166.4 422.2,167.0 422.8,167.6 423.4,168.2 424.0,168.8 424.6,169.4 425.2,170.0 425.8,170.7 426.4,171.3 427.0,171.9 427.6,172.6 428.2,173.2 428.8,173.9 429.4,174.6 430.0,175.3 430.6,176.0 431.2,176.7 431.8,177.4 432.4,178.2 433.0,178.9 433.6,179.7 434.2,180.5 434.8,181.3 435.4,182.2 436.0,183.0 436.6,183.9 437.2,184.9 437.8,185.8 438.4,186.8 438.6,187.1 438.7,187.3 438.9,187.6 439.0,187.8 439.2,188.1 439.3,188.4 439.5,188.6 439.6,188.9 439.8,189.2 439.9,189.5 440.1,189.7 440.2,190.0 440.4,190.3 440.5,190.6 440.7,190.9 440.8,191.2 441.0,191.5 441.1,191.8 441.3,192.1 441.4,192.5 441.6,192.8 441.7,193.1 441.9,193.4 442.0,193.8 442.2,194.1 442.3,194.5 442.5,194.8 442.6,195.2 442.8,195.6 442.9,195.9 443.1,196.3 443.2,196.7 443.4,197.1 443.5,197.5 443.7,197.9 443.8,198.3 444.0,198.7 444.1,199.2 444.3,199.6 444.4,200.1 444.6,200.5 444.7,201.0 444.9,201.5 445.0,202.0 445.2,202.5 445.3,203.1 445.5,203.6 445.6,204.2 445.8,204.7 445.9,205.3 446.1,205.9 446.2,206.6 446.4,207.2 446.5,207.9 446.7,208.6 446.8,209.3 447.0,210.1 447.1,210.9 447.3,211.7 447.4,212.6 447.6,213.5 447.7,214.5 447.9,215.5 448.0,216.6" stroke="#8FB032" stroke-width="1.0"/>
<path d="M261.6,29.9 366.9,118.2 368.4,119.5 369.9,120.7 371.4,122.0 372.9,123.3 374.4,124.5 375.9,125.8 377.4,127.1 378.9,128.3 380.4,129.6 381.9,130.9 383.4,132.1 384.9,133.4 386.4,134.7 387.9,135.9 389.4,137.2 390.9,138.5 392.4,139.7 393.9,141.0 395.4,142.3 396.9,143.6 398.4,144.9 399.9,146.2 401.4,147.4 402.9,148.7 404.4,150.0 405.9,151.3 407.4,152.7 408.9,154.0 410.4,155.3 411.9,156.7 413.4,158.0 414.9,159.4 415.5,159.9 416.1,160.5 416.7,161.0 417.3,161.6 417.9,162.2 418.5,162.7 419.1,163.3 419.7,163.9 420.3,164.4 420.9,165.0 421.5,165.6 422.1,166.2 422.7,166.8 423.3,167.4 423.9,168.0 424.5,168.6 425.1,169.2 425.7,169.8 426.3,170.4 426.9,171.1 427.5,171.7 428.1,172.4 428.7,173.0 429.3,173.7 429.9,174.4 430.5,175.1 431.1,175.8 431.7,176.5 432.3,177.2 432.9,178.0 433.5,178.7 434.1,179.5 434.7,180.3 435.3,181.1 435.9,182.0 436.5,182.8 437.1,183.7 437.7,184.6 438.3,185.6 438.9,186.6 439.0,186.8 439.2,187.1 439.3,187.4 439.5,187.6 439.6,187.9 439.8,188.2 439.9,188.4 440.1,188.7 440.2,189.0 440.4,189.3 440.5,189.5 440.7,189.8 440.8,190.1 441.0,190.4 441.1,190.7 441.3,191.0 441.4,191.3 441.6,191.6 441.7,191.9 441.9,192.2 442.0,192.6 442.2,192.9 442.3,193.2 442.5,193.6 442.6,193.9 442.8,194.3 442.9,194.6 443.1,195.0 443.2,195.3 443.4,195.7 443.5,196.1 443.7,196.5 443.8,196.9 444.0,197.3 444.1,197.7 444.3,198.1 444.4,198.5 444.6,199.0 444.7,199.4 444.9,199.9 445.0,200.3 445.2,200.8 445.3,201.3 445.5,201.8 445.6,202.3 445.8,202.8 445.9,203.4 446.1,203.9 446.2,204.5 446.4,205.1 446.5,205.7 446.7,206.4 446.8,207.0 447.0,207.7 447.1,208.4 447.3,209.1 447.4,209.9 447.6,210.7 447.7,211.5 447.9,212.4 448.0,213.3 448.2,214.3 448.3,215.3 448.5,216.3" stroke="#8FB032" stroke-width="1.0"/>
<path d="M261.6,29.3 367.3,118.0 368.8,119.3 370.3,120.5 371.8,121.8 373.3,123.1 374.8,124.3 376.3,125.6 377.8,126.8 379.3,128.1 380.8,129.4 382.3,130.6 383.8,131.9 385.3,133.2 386.8,134.4 388.3,135.7 389.8,137.0 391.3,138.3 392.8,139.5 394.3,140.8 395.8,142.1 397.3,143.4 398.8,144.7 400.3,145.9 401.8,147.2 403.3,148.5 404.8,149.8 406.3,151.1 407.8,152.5 409.3,153.8 410.8,155.1 412.3,156.4 413.8,157.8 415.3,159.2 415.9,159.7 416.5,160.3 417.1,160.8 417.7,161.4 418.3,161.9 418.9,162.5 419.5,163.1 420.1,163.6 420.7,164.2 421.3,164.8 421.9,165.4 422.5,166.0 423.1,166.6 423.7,167.2 424.3,167.8 424.9,168.4 425.5,169.0 426.1,169.6 426.7,170.2 427.3,170.9 427.9,171.5 428.5,172.2 429.1,172.8 429.7,173.5 430.3,174.2 430.9,174.9 431.5,175.6 432.1,176.3 432.7,177.0 433.3,177.8 433.9,178.5 434.5,179.3 435.1,180.1 435.7,180.9 436.3,181.8 436.9,182.6 437.5,183.5 438.1,184.4 438.7,185.4 439.3,186.4 439.5,186.6 439.6,186.9 439.8,187.1 439.9,187.4 440.1,187.7 440.2,187.9 440.4,188.2 440.5,188.5 440.7,188.8 440.8,189.0 441.0,189.3 441.1,189.6 441.3,189.9 441.4,190.2 441.6,190.5 441.7,190.8 441.9,191.1 442.0,191.4 442.2,191.7 442.3,192.0 442.5,192.4 442.6,192.7 442.8,193.0 442.9,193.4 443.1,193.7 443.2,194.0 443.4,194.4 443.5,194.8 443.7,195.1 443.8,195.5 444.0,195.9 444.1,196.3 444.3,196.7 444.4,197.1 444.6,197.5 444.7,197.9 444.9,198.3 445.0,198.7 445.2,199.2 445.3,199.6 445.5,200.1 445.6,200.6 445.8,201.1 445.9,201.6 446.1,202.1 446.2,202.6 446.4,203.2 446.5,203.7 446.7,204.3 446.8,204.9 447.0,205.5 447.1,206.1 447.3,206.8 447.4,207.5 447.6,208.2 447.7,208.9 447.9,209.7 448.0,210.5 448.2,211.3 448.3,212.2 448.5,213.1 448.6,214.0 448.8,215.1 448.9,216.1 449.1,217.3" stroke="#8FB032" stroke-width="1.0"/>
<path d="M261.6,28.7 367.8,117.8 369.3,119.1 370.8,120.3 372.3,121.6 373.8,122.9 375.3,124.1 376.8,125.4 378.3,126.6 379.8,127.9 381.3,129.2 382.8,130.4 384.3,131.7 385.8,133.0 387.3,134.2 388.8,135.5 390.3,136.8 391.8,138.0 393.3,139.3 394.8,140.6 396.3,141.9 397.8,143.2 399.3,144.4 400.8,145.7 402.3,147.0 403.8,148.3 405.3,149.6 406.8,150.9 408.3,152.2 409.8,153.6 411.3,154.9 412.8,156.2 414.3,157.6 415.8,159.0 416.4,159.5 417.0,160.1 417.6,160.6 418.2,161.2 418.8,161.7 419.4,162.3 420.0,162.9 420.6,163.4 421.2,164.0 421.8,164.6 422.4,165.2 423.0,165.8 423.6,166.3 424.2,166.9 424.8,167.6 425.4,168.2 426.0,168.8 426.6,169.4 427.2,170.0 427.8,170.7 428.4,171.3 429.0,172.0 429.6,172.6 430.2,173.3 430.8,174.0 431.4,174.7 432.0,175.4 432.6,176.1 433.2,176.8 433.8,177.6 434.4,178.3 435.0,179.1 435.6,179.9 436.2,180.7 436.8,181.5 437.4,182.4 438.0,183.3 438.6,184.2 439.2,185.2 439.8,186.2 440.0,186.4 440.1,186.7 440.3,186.9 440.4,187.2 440.6,187.5 440.7,187.7 440.9,188.0 441.0,188.3 441.2,188.5 441.3,188.8 441.5,189.1 441.6,189.4 441.8,189.7 441.9,190.0 442.1,190.3 442.2,190.6 442.4,190.9 442.5,191.2 442.7,191.5 442.8,191.8 443.0,192.1 443.1,192.5 443.3,192.8 443.4,193.1 443.6,193.5 443.7,193.8 443.9,194.2 444.0,194.5 444.2,194.9 444.3,195.3 444.5,195.7 444.6,196.1 444.8,196.4 444.9,196.8 445.1,197.3 445.2,197.7 445.4,198.1 445.5,198.5 445.7,199.0 445.8,199.4 446.0,199.9 446.1,200.4 446.3,200.9 446.4,201.4 446.6,201.9 446.7,202.4 446.9,203.0 447.0,203.5 447.2,204.1 447.3,204.7 447.5,205.3 447.6,205.9 447.8,206.6 447.9,207.3 448.1,208.0 448.2,208.7 448.4,209.5 448.5,210.3 448.7,211.1 448.8,212.0 449.0,212.9 449.1,213.8 449.3,214.8 449.4,215.9 449.6,217.1" stroke="#8FB032" stroke-width="1.0"/>
<path d="M261.6,28.1 386.2,132.7 387.7,133.9 389.2,135.2 390.7,136.5 392.2,137.7 393.7,139.0 395.2,140.3 396.7,141.5 398.2,142.8 399.7,144.1 401.2,145.3 402.7,146.6 404.2,147.9 405.7,149.1 407.2,150.4 408.7,151.7 410.2,153.0 411.7,154.3 413.2,155.6 414.7,156.9 416.2,158.2 417.7,159.5 419.2,160.8 420.7,162.2 422.2,163.5 423.7,164.9 425.2,166.3 426.7,167.7 427.3,168.3 427.9,168.8 428.5,169.4 429.1,170.0 429.7,170.6 430.3,171.2 430.9,171.8 431.5,172.4 432.1,173.0 432.7,173.6 433.3,174.3 433.9,174.9 434.5,175.6 435.1,176.2 435.7,176.9 436.3,177.6 436.9,178.3 437.5,179.0 438.1,179.7 438.7,180.4 439.3,181.2 439.9,182.0 440.5,182.8 441.1,183.6 441.7,184.5 442.3,185.3 442.9,186.2 443.5,187.2 444.1,188.2 444.7,189.2 445.3,190.3 445.9,191.4 446.5,192.6 446.7,192.9 446.8,193.2 447.0,193.5 447.1,193.8 447.3,194.1 447.4,194.5 447.6,194.8 447.7,195.2 447.9,195.5 448.0,195.9 448.2,196.2 448.3,196.6 448.5,197.0 448.6,197.3 448.8,197.7 448.9,198.1 449.1,198.5 449.2,198.9 449.4,199.4 449.5,199.8 449.7,200.2 449.8,200.7 450.0,201.1 450.1,201.6 450.3,202.1 450.4,202.6 450.6,203.1 450.7,203.6 450.9,204.1 451.0,204.7 451.2,205.2 451.3,205.8 451.5,206.4 451.6,207.0 451.8,207.7 451.9,208.3 452.1,209.0 452.2,209.7 452.4,210.5 452.5,211.2 452.7,212.0 452.8,212.9 453.0,213.7 453.1,214.6 453.3,215.6 453.4,216.6" stroke="#8FB032" stroke-width="1.6"/>
<path d="M261.6,39.3 372.6,132.6 374.1,133.8 375.6,135.1 377.1,136.4 378.6,137.6 380.1,138.9 381.6,140.2 383.1,141.4 384.6,142.7 386.1,144.0 387.6,145.2 389.1,146.5 390.6,147.8 392.1,149.1 393.6,150.3 395.1,151.6 396.6,152.9 398.1,154.2 399.6,155.5 401.1,156.8 402.6,158.1 404.1,159.4 405.6,160.8 407.1,162.1 408.6,163.5 410.1,164.8 411.6,166.2 413.1,167.6 413.7,168.2 414.3,168.8 414.9,169.4 415.5,169.9 416.1,170.5 416.7,171.1 417.3,171.7 417.9,172.3 418.5,172.9 419.1,173.6 419.7,174.2 420.3,174.8 420.9,175.5 421.5,176.2 422.1,176.8 422.7,177.5 423.3,178.2 423.9,178.9 424.5,179.6 425.1,180.4 425.7,181.1 426.3,181.9 426.9,182.7 427.5,183.5 428.1,184.4 428.7,185.3 429.3,186.2 429.9,187.1 430.5,188.1 431.1,189.1 431.7,190.2 432.3,191.3 432.9,192.5 433.1,192.8 433.2,193.1 433.4,193.5 433.5,193.8 433.7,194.1 433.8,194.4 434.0,194.8 434.1,195.1 434.3,195.5 434.4,195.8 434.6,196.2 434.7,196.5 434.9,196.9 435.0,197.3 435.2,197.7 435.3,198.1 435.5,198.5 435.6,198.9 435.8,199.3 435.9,199.7 436.1,200.2 436.2,200.6 436.4,201.1 436.5,201.5 436.7,202.0 436.8,202.5 437.0,203.0 437.1,203.5 437.3,204.1 437.4,204.6 437.6,205.2 437.7,205.8 437.9,206.4 438.0,207.0 438.2,207.6 438.3,208.3 438.5,209.0 438.6,209.7 438.8,210.4 438.9,211.2 439.1,212.0 439.2,212.8 439.4,213.7 439.5,214.6 439.7,215.5 439.8,216.6" stroke="#EB6235" stroke-width="1.5" stroke-dasharray="3.1,2.6"/>
</g></g>
<g clip-path="url(#cpc)">
<path d="M479.6,50.7 609.9,160.7 611.4,162.0 612.9,163.3 614.4,164.5 615.9,165.8 617.4,167.1 618.9,168.4 620.4,169.6 621.9,170.9 623.4,172.2 624.9,173.5 626.4,174.7 627.9,176.0 629.4,177.3 630.9,178.6 632.4,179.9 633.9,181.2 635.4,182.5 636.9,183.8 638.4,185.1 639.9,186.4 641.4,187.7 642.9,189.1 644.4,190.4 645.9,191.8 646.5,192.4 647.1,192.9 647.7,193.5 648.3,194.1 648.9,194.6 649.5,195.2 650.1,195.8 650.7,196.4 651.3,196.9 651.9,197.5 652.5,198.1 653.1,198.8 653.7,199.4 654.3,200.0 654.9,200.6 655.5,201.3 656.1,202.0 656.7,202.6 657.3,203.3 657.9,204.0 658.5,204.7 659.1,205.5 659.7,206.2 660.3,207.0 660.9,207.8 661.5,208.6 662.1,209.5 662.7,210.4 663.3,211.3 663.9,212.3 664.1,212.6 664.2,212.8 664.4,213.1 664.4,215.1 619.6,215.1 619.6,213.1 619.4,212.9 619.3,212.6 619.1,212.3 619.0,212.1 618.8,211.8 618.7,211.6 618.1,210.6 617.5,209.6 616.9,208.7 616.3,207.9 615.7,207.0 615.1,206.2 614.5,205.5 613.9,204.7 613.3,204.0 612.7,203.3 612.1,202.6 611.5,201.9 610.9,201.2 610.3,200.6 609.7,199.9 609.1,199.3 608.5,198.7 607.9,198.0 607.3,197.4 606.7,196.8 606.1,196.2 605.5,195.6 604.9,195.1 604.3,194.5 603.7,193.9 603.1,193.4 602.5,192.8 601.9,192.2 601.3,191.7 600.7,191.1 599.2,189.8 597.7,188.4 596.2,187.1 594.7,185.8 593.2,184.4 591.7,183.1 590.2,181.8 588.7,180.6 587.2,179.3 585.7,178.0 584.2,176.7 582.7,175.4 581.2,174.2 579.7,172.9 578.2,171.6 576.7,170.3 575.2,169.1 573.7,167.8 572.2,166.5 570.7,165.3 569.2,164.0 567.7,162.8 566.2,161.5 564.7,160.2 479.6,88.8Z" fill="#5E81B5" fill-opacity="0.2"/>
<g fill="none" stroke-linejoin="round">
<path d="M479.6,88.8 564.7,160.2 566.2,161.5 567.7,162.8 569.2,164.0 570.7,165.3 572.2,166.5 573.7,167.8 575.2,169.1 576.7,170.3 578.2,171.6 579.7,172.9 581.2,174.2 582.7,175.4 584.2,176.7 585.7,178.0 587.2,179.3 588.7,180.6 590.2,181.8 591.7,183.1 593.2,184.4 594.7,185.8 596.2,187.1 597.7,188.4 599.2,189.8 600.7,191.1 601.3,191.7 601.9,192.2 602.5,192.8 603.1,193.4 603.7,193.9 604.3,194.5 604.9,195.1 605.5,195.6 606.1,196.2 606.7,196.8 607.3,197.4 607.9,198.0 608.5,198.7 609.1,199.3 609.7,199.9 610.3,200.6 610.9,201.2 611.5,201.9 612.1,202.6 612.7,203.3 613.3,204.0 613.9,204.7 614.5,205.5 615.1,206.2 615.7,207.0 616.3,207.9 616.9,208.7 617.5,209.6 618.1,210.6 618.7,211.6 618.8,211.8 619.0,212.1 619.1,212.3 619.3,212.6 619.4,212.9 619.6,213.1" stroke="#5E81B5" stroke-width="1.45"/>
<path d="M479.6,71.5 570.9,148.6 572.4,149.9 573.9,151.1 575.4,152.4 576.9,153.7 578.4,155.0 579.9,156.2 581.4,157.5 582.9,158.8 584.4,160.1 585.9,161.3 587.4,162.6 588.9,163.9 590.4,165.2 591.9,166.5 593.4,167.8 594.9,169.0 596.4,170.3 597.9,171.6 599.4,173.0 600.9,174.3 602.4,175.6 603.9,177.0 605.4,178.3 606.9,179.7 607.5,180.2 608.1,180.8 608.7,181.4 609.3,181.9 609.9,182.5 610.5,183.1 611.1,183.6 611.7,184.2 612.3,184.8 612.9,185.4 613.5,186.0 614.1,186.6 614.7,187.2 615.3,187.9 615.9,188.5 616.5,189.2 617.1,189.8 617.7,190.5 618.3,191.2 618.9,191.9 619.5,192.6 620.1,193.3 620.7,194.1 621.3,194.9 621.9,195.7 622.5,196.5 623.1,197.4 623.7,198.3 624.3,199.2 624.9,200.2 625.1,200.5 625.2,200.7 625.4,201.0 625.5,201.2 625.7,201.5 625.8,201.8 626.0,202.1 626.1,202.3 626.3,202.6 626.4,202.9 626.6,203.2 626.7,203.5 626.9,203.8 627.0,204.1 627.2,204.5 627.3,204.8 627.5,205.1 627.6,205.4 627.8,205.8 627.9,206.1 628.1,206.5 628.2,206.9 628.4,207.2 628.5,207.6 628.7,208.0 628.8,208.4 629.0,208.9 629.1,209.3 629.3,209.7 629.4,210.2 629.6,210.6 629.7,211.1 629.9,211.6 630.0,212.1 630.2,212.7 630.3,213.2" stroke="#5E81B5" stroke-width="1.0"/>
<path d="M479.6,67.7 575.3,148.5 576.8,149.8 578.3,151.0 579.8,152.3 581.3,153.6 582.8,154.8 584.3,156.1 585.8,157.4 587.3,158.7 588.8,159.9 590.3,161.2 591.8,162.5 593.3,163.8 594.8,165.1 596.3,166.3 597.8,167.6 599.3,168.9 600.8,170.2 602.3,171.5 603.8,172.8 605.3,174.2 606.8,175.5 608.3,176.8 609.8,178.2 611.3,179.6 611.9,180.1 612.5,180.7 613.1,181.2 613.7,181.8 614.3,182.4 614.9,182.9 615.5,183.5 616.1,184.1 616.7,184.7 617.3,185.3 617.9,185.9 618.5,186.5 619.1,187.1 619.7,187.8 620.3,188.4 620.9,189.0 621.5,189.7 622.1,190.4 622.7,191.1 623.3,191.8 623.9,192.5 624.5,193.2 625.1,194.0 625.7,194.8 626.3,195.6 626.9,196.4 627.5,197.3 628.1,198.2 628.7,199.1 629.3,200.1 629.4,200.3 629.6,200.6 629.7,200.9 629.9,201.1 630.0,201.4 630.2,201.7 630.3,201.9 630.5,202.2 630.6,202.5 630.8,202.8 630.9,203.1 631.1,203.4 631.2,203.7 631.4,204.0 631.5,204.3 631.7,204.7 631.8,205.0 632.0,205.3 632.1,205.7 632.3,206.0 632.4,206.4 632.6,206.8 632.7,207.1 632.9,207.5 633.0,207.9 633.2,208.3 633.3,208.7 633.5,209.2 633.6,209.6 633.8,210.1 633.9,210.5 634.1,211.0 634.2,211.5 634.4,212.0 634.5,212.6 634.7,213.1" stroke="#5E81B5" stroke-width="1.0"/>
<path d="M479.6,64.1 581.4,150.1 582.9,151.4 584.4,152.6 585.9,153.9 587.4,155.2 588.9,156.4 590.4,157.7 591.9,159.0 593.4,160.3 594.9,161.5 596.4,162.8 597.9,164.1 599.4,165.4 600.9,166.7 602.4,167.9 603.9,169.2 605.4,170.5 606.9,171.8 608.4,173.1 609.9,174.4 611.4,175.8 612.9,177.1 614.4,178.4 615.9,179.8 617.4,181.2 618.0,181.7 618.6,182.3 619.2,182.8 619.8,183.4 620.4,184.0 621.0,184.5 621.6,185.1 622.2,185.7 622.8,186.3 623.4,186.9 624.0,187.5 624.6,188.1 625.2,188.7 625.8,189.4 626.4,190.0 627.0,190.6 627.6,191.3 628.2,192.0 628.8,192.7 629.4,193.4 630.0,194.1 630.6,194.8 631.2,195.6 631.8,196.3 632.4,197.2 633.0,198.0 633.6,198.8 634.2,199.7 634.8,200.7 635.4,201.7 635.6,201.9 635.7,202.2 635.9,202.5 636.0,202.7 636.2,203.0 636.3,203.3 636.5,203.5 636.6,203.8 636.8,204.1 636.9,204.4 637.1,204.7 637.2,205.0 637.4,205.3 637.5,205.6 637.7,205.9 637.8,206.3 638.0,206.6 638.1,206.9 638.3,207.3 638.4,207.6 638.6,208.0 638.7,208.3 638.9,208.7 639.0,209.1 639.2,209.5 639.3,209.9 639.5,210.3 639.6,210.8 639.8,211.2 639.9,211.7 640.1,212.1 640.2,212.6 640.4,213.1" stroke="#5E81B5" stroke-width="1.0"/>
<path d="M479.6,60.7 593.6,157.0 595.1,158.3 596.6,159.5 598.1,160.8 599.6,162.1 601.1,163.4 602.6,164.6 604.1,165.9 605.6,167.2 607.1,168.4 608.6,169.7 610.1,171.0 611.6,172.3 613.1,173.6 614.6,174.9 616.1,176.1 617.6,177.4 619.1,178.7 620.6,180.0 622.1,181.4 623.6,182.7 625.1,184.0 626.6,185.3 628.1,186.7 629.6,188.1 630.2,188.6 630.8,189.2 631.4,189.7 632.0,190.3 632.6,190.9 633.2,191.5 633.8,192.0 634.4,192.6 635.0,193.2 635.6,193.8 636.2,194.4 636.8,195.0 637.4,195.6 638.0,196.3 638.6,196.9 639.2,197.6 639.8,198.2 640.4,198.9 641.0,199.6 641.6,200.3 642.2,201.0 642.8,201.7 643.4,202.5 644.0,203.3 644.6,204.1 645.2,204.9 645.8,205.8 646.4,206.7 647.0,207.6 647.6,208.6 647.8,208.8 647.9,209.1 648.1,209.4 648.2,209.6 648.4,209.9 648.5,210.2 648.7,210.5 648.8,210.7 649.0,211.0 649.1,211.3 649.3,211.6 649.4,211.9 649.6,212.2 649.7,212.5 649.9,212.9 650.0,213.2" stroke="#5E81B5" stroke-width="1.0"/>
<path d="M479.6,59.3 595.0,156.8 596.5,158.0 598.0,159.3 599.5,160.6 601.0,161.8 602.5,163.1 604.0,164.4 605.5,165.7 607.0,166.9 608.5,168.2 610.0,169.5 611.5,170.8 613.0,172.0 614.5,173.3 616.0,174.6 617.5,175.9 619.0,177.2 620.5,178.5 622.0,179.8 623.5,181.1 625.0,182.4 626.5,183.8 628.0,185.1 629.5,186.5 631.0,187.8 631.6,188.4 632.2,188.9 632.8,189.5 633.4,190.1 634.0,190.6 634.6,191.2 635.2,191.8 635.8,192.4 636.4,193.0 637.0,193.6 637.6,194.2 638.2,194.8 638.8,195.4 639.4,196.0 640.0,196.7 640.6,197.3 641.2,198.0 641.8,198.6 642.4,199.3 643.0,200.0 643.6,200.7 644.2,201.5 644.8,202.2 645.4,203.0 646.0,203.8 646.6,204.7 647.2,205.5 647.8,206.4 648.4,207.4 649.0,208.3 649.2,208.6 649.3,208.9 649.5,209.1 649.6,209.4 649.8,209.7 649.9,209.9 650.1,210.2 650.2,210.5 650.4,210.8 650.5,211.1 650.7,211.4 650.8,211.7 651.0,212.0 651.1,212.3 651.3,212.6 651.4,212.9 651.6,213.3" stroke="#5E81B5" stroke-width="1.0"/>
<path d="M479.6,57.9 596.4,156.5 597.9,157.8 599.4,159.1 600.9,160.3 602.4,161.6 603.9,162.9 605.4,164.1 606.9,165.4 608.4,166.7 609.9,168.0 611.4,169.2 612.9,170.5 614.4,171.8 615.9,173.1 617.4,174.4 618.9,175.7 620.4,177.0 621.9,178.3 623.4,179.6 624.9,180.9 626.4,182.2 627.9,183.5 629.4,184.9 630.9,186.2 632.4,187.6 633.0,188.1 633.6,188.7 634.2,189.3 634.8,189.8 635.4,190.4 636.0,191.0 636.6,191.5 637.2,192.1 637.8,192.7 638.4,193.3 639.0,193.9 639.6,194.5 640.2,195.2 640.8,195.8 641.4,196.4 642.0,197.1 642.6,197.7 643.2,198.4 643.8,199.1 644.4,199.8 645.0,200.5 645.6,201.2 646.2,202.0 646.8,202.8 647.4,203.6 648.0,204.4 648.6,205.3 649.2,206.2 649.8,207.1 650.4,208.1 650.5,208.4 650.7,208.6 650.8,208.9 651.0,209.1 651.1,209.4 651.3,209.7 651.4,210.0 651.6,210.3 651.7,210.5 651.9,210.8 652.0,211.1 652.2,211.4 652.3,211.7 652.5,212.0 652.6,212.4 652.8,212.7 652.9,213.0 653.1,213.4" stroke="#5E81B5" stroke-width="1.0"/>
<path d="M479.6,56.5 597.9,156.4 599.4,157.7 600.9,159.0 602.4,160.2 603.9,161.5 605.4,162.8 606.9,164.1 608.4,165.3 609.9,166.6 611.4,167.9 612.9,169.2 614.4,170.4 615.9,171.7 617.4,173.0 618.9,174.3 620.4,175.6 621.9,176.9 623.4,178.2 624.9,179.5 626.4,180.8 627.9,182.1 629.4,183.4 630.9,184.8 632.4,186.1 633.9,187.5 634.5,188.1 635.1,188.6 635.7,189.2 636.3,189.7 636.9,190.3 637.5,190.9 638.1,191.5 638.7,192.0 639.3,192.6 639.9,193.2 640.5,193.8 641.1,194.4 641.7,195.1 642.3,195.7 642.9,196.3 643.5,197.0 644.1,197.6 644.7,198.3 645.3,199.0 645.9,199.7 646.5,200.4 647.1,201.2 647.7,201.9 648.3,202.7 648.9,203.5 649.5,204.3 650.1,205.2 650.7,206.1 651.3,207.0 651.9,208.0 652.1,208.3 652.2,208.5 652.4,208.8 652.5,209.1 652.7,209.3 652.8,209.6 653.0,209.9 653.1,210.2 653.3,210.5 653.4,210.7 653.6,211.0 653.7,211.3 653.9,211.6 654.0,212.0 654.2,212.3 654.3,212.6 654.5,212.9 654.6,213.3" stroke="#5E81B5" stroke-width="1.0"/>
<path d="M479.6,55.2 599.8,156.7 601.3,157.9 602.8,159.2 604.3,160.5 605.8,161.8 607.3,163.0 608.8,164.3 610.3,165.6 611.8,166.8 613.3,168.1 614.8,169.4 616.3,170.7 617.8,172.0 619.3,173.2 620.8,174.5 622.3,175.8 623.8,177.1 625.3,178.4 626.8,179.7 628.3,181.0 629.8,182.4 631.3,183.7 632.8,185.0 634.3,186.4 635.8,187.7 636.4,188.3 637.0,188.9 637.6,189.4 638.2,190.0 638.8,190.6 639.4,191.1 640.0,191.7 640.6,192.3 641.2,192.9 641.8,193.5 642.4,194.1 643.0,194.7 643.6,195.3 644.2,195.9 644.8,196.6 645.4,197.2 646.0,197.9 646.6,198.6 647.2,199.2 647.8,200.0 648.4,200.7 649.0,201.4 649.6,202.2 650.2,202.9 650.8,203.7 651.4,204.6 652.0,205.4 652.6,206.3 653.2,207.3 653.8,208.3 653.9,208.5 654.1,208.8 654.2,209.0 654.4,209.3 654.5,209.6 654.7,209.9 654.8,210.1 655.0,210.4 655.1,210.7 655.3,211.0 655.4,211.3 655.6,211.6 655.7,211.9 655.9,212.2 656.0,212.5 656.2,212.8 656.3,213.2" stroke="#5E81B5" stroke-width="1.0"/>
<path d="M479.6,54.3 601.8,157.5 603.3,158.8 604.8,160.1 606.3,161.3 607.8,162.6 609.3,163.9 610.8,165.1 612.3,166.4 613.8,167.7 615.3,169.0 616.8,170.2 618.3,171.5 619.8,172.8 621.3,174.1 622.8,175.4 624.3,176.7 625.8,178.0 627.3,179.3 628.8,180.6 630.3,181.9 631.8,183.2 633.3,184.5 634.8,185.9 636.3,187.2 637.8,188.6 638.4,189.1 639.0,189.7 639.6,190.3 640.2,190.8 640.8,191.4 641.4,192.0 642.0,192.6 642.6,193.1 643.2,193.7 643.8,194.3 644.4,194.9 645.0,195.5 645.6,196.2 646.2,196.8 646.8,197.4 647.4,198.1 648.0,198.7 648.6,199.4 649.2,200.1 649.8,200.8 650.4,201.5 651.0,202.2 651.6,203.0 652.2,203.8 652.8,204.6 653.4,205.4 654.0,206.3 654.6,207.2 655.2,208.1 655.8,209.1 656.0,209.4 656.1,209.6 656.3,209.9 656.4,210.2 656.6,210.4 656.7,210.7 656.9,211.0 657.0,211.3 657.2,211.5 657.3,211.8 657.5,212.1 657.6,212.4 657.8,212.7 657.9,213.1 658.1,213.4" stroke="#5E81B5" stroke-width="1.0"/>
<path d="M479.6,53.4 603.9,158.4 605.4,159.7 606.9,160.9 608.4,162.2 609.9,163.5 611.4,164.8 612.9,166.0 614.4,167.3 615.9,168.6 617.4,169.8 618.9,171.1 620.4,172.4 621.9,173.7 623.4,175.0 624.9,176.3 626.4,177.5 627.9,178.8 629.4,180.1 630.9,181.4 632.4,182.8 633.9,184.1 635.4,185.4 636.9,186.7 638.4,188.1 639.9,189.5 640.5,190.0 641.1,190.6 641.7,191.1 642.3,191.7 642.9,192.3 643.5,192.9 644.1,193.4 644.7,194.0 645.3,194.6 645.9,195.2 646.5,195.8 647.1,196.4 647.7,197.0 648.3,197.7 648.9,198.3 649.5,199.0 650.1,199.6 650.7,200.3 651.3,201.0 651.9,201.7 652.5,202.4 653.1,203.1 653.7,203.9 654.3,204.7 654.9,205.5 655.5,206.3 656.1,207.2 656.7,208.1 657.3,209.0 657.9,210.0 658.1,210.2 658.2,210.5 658.4,210.8 658.5,211.0 658.7,211.3 658.8,211.6 659.0,211.9 659.1,212.1 659.3,212.4 659.4,212.7 659.6,213.0 659.7,213.3" stroke="#5E81B5" stroke-width="1.0"/>
<path d="M479.6,52.5 606.3,159.5 607.8,160.8 609.3,162.0 610.8,163.3 612.3,164.6 613.8,165.9 615.3,167.1 616.8,168.4 618.3,169.7 619.8,170.9 621.3,172.2 622.8,173.5 624.3,174.8 625.8,176.1 627.3,177.4 628.8,178.6 630.3,179.9 631.8,181.2 633.3,182.5 634.8,183.9 636.3,185.2 637.8,186.5 639.3,187.8 640.8,189.2 642.3,190.6 642.9,191.1 643.5,191.7 644.1,192.2 644.7,192.8 645.3,193.4 645.9,194.0 646.5,194.5 647.1,195.1 647.7,195.7 648.3,196.3 648.9,196.9 649.5,197.5 650.1,198.1 650.7,198.8 651.3,199.4 651.9,200.1 652.5,200.7 653.1,201.4 653.7,202.1 654.3,202.8 654.9,203.5 655.5,204.2 656.1,205.0 656.7,205.8 657.3,206.6 657.9,207.4 658.5,208.3 659.1,209.2 659.7,210.1 660.3,211.1 660.5,211.3 660.6,211.6 660.8,211.9 660.9,212.1 661.1,212.4 661.2,212.7 661.4,213.0 661.5,213.2" stroke="#5E81B5" stroke-width="1.0"/>
<path d="M479.6,51.6 608.8,160.7 610.3,161.9 611.8,163.2 613.3,164.5 614.8,165.8 616.3,167.0 617.8,168.3 619.3,169.6 620.8,170.8 622.3,172.1 623.8,173.4 625.3,174.7 626.8,176.0 628.3,177.2 629.8,178.5 631.3,179.8 632.8,181.1 634.3,182.4 635.8,183.7 637.3,185.0 638.8,186.3 640.3,187.7 641.8,189.0 643.3,190.4 644.8,191.7 645.4,192.3 646.0,192.9 646.6,193.4 647.2,194.0 647.8,194.6 648.4,195.1 649.0,195.7 649.6,196.3 650.2,196.9 650.8,197.5 651.4,198.1 652.0,198.7 652.6,199.3 653.2,199.9 653.8,200.6 654.4,201.2 655.0,201.9 655.6,202.6 656.2,203.2 656.8,203.9 657.4,204.7 658.0,205.4 658.6,206.2 659.2,206.9 659.8,207.7 660.4,208.6 661.0,209.4 661.6,210.3 662.2,211.3 662.8,212.3 662.9,212.5 663.1,212.8 663.2,213.0 663.4,213.3" stroke="#5E81B5" stroke-width="1.0"/>
<path d="M479.6,50.7 609.9,160.7 611.4,162.0 612.9,163.3 614.4,164.5 615.9,165.8 617.4,167.1 618.9,168.4 620.4,169.6 621.9,170.9 623.4,172.2 624.9,173.5 626.4,174.7 627.9,176.0 629.4,177.3 630.9,178.6 632.4,179.9 633.9,181.2 635.4,182.5 636.9,183.8 638.4,185.1 639.9,186.4 641.4,187.7 642.9,189.1 644.4,190.4 645.9,191.8 646.5,192.4 647.1,192.9 647.7,193.5 648.3,194.1 648.9,194.6 649.5,195.2 650.1,195.8 650.7,196.4 651.3,196.9 651.9,197.5 652.5,198.1 653.1,198.8 653.7,199.4 654.3,200.0 654.9,200.6 655.5,201.3 656.1,202.0 656.7,202.6 657.3,203.3 657.9,204.0 658.5,204.7 659.1,205.5 659.7,206.2 660.3,207.0 660.9,207.8 661.5,208.6 662.1,209.5 662.7,210.4 663.3,211.3 663.9,212.3 664.1,212.6 664.2,212.8 664.4,213.1" stroke="#5E81B5" stroke-width="1.45"/>
<path d="M479.6,62.4 593.8,160.0 595.3,161.3 596.8,162.6 598.3,163.9 599.8,165.2 601.3,166.5 602.8,167.7 604.3,169.0 605.8,170.3 607.3,171.6 608.8,172.9 610.3,174.2 611.8,175.5 613.3,176.8 614.8,178.1 616.3,179.4 617.8,180.7 619.3,182.0 620.8,183.3 622.3,184.7 623.8,186.0 625.3,187.3 626.8,188.7 628.3,190.1 629.8,191.5 630.4,192.0 631.0,192.6 631.6,193.2 632.2,193.7 632.8,194.3 633.4,194.9 634.0,195.5 634.6,196.1 635.2,196.7 635.8,197.3 636.4,197.9 637.0,198.5 637.6,199.1 638.2,199.7 638.8,200.4 639.4,201.0 640.0,201.7 640.6,202.4 641.2,203.1 641.8,203.8 642.4,204.5 643.0,205.2 643.6,206.0 644.2,206.8 644.8,207.6 645.4,208.4 646.0,209.3 646.6,210.2 647.2,211.2 647.8,212.2 647.9,212.4 648.1,212.7 648.2,212.9 648.4,213.2" stroke="#EB6235" stroke-width="1.5" stroke-dasharray="3.1,2.6"/>
</g></g>
<rect x="45.65" y="30.1" width="202.15" height="183.05" fill="none" stroke="#1a1a1a" stroke-width="1"/>
<rect x="264.6" y="30.1" width="201.6" height="183.05" fill="none" stroke="#1a1a1a" stroke-width="1"/>
<rect x="482.65" y="27" width="201.25" height="183.1" fill="none" stroke="#1a1a1a" stroke-width="1"/>
<path d="M45.65,30.1v2.8 M47.94,30.1v1.3 M50.23,30.1v1.3 M52.52,30.1v1.3 M54.81,30.1v1.3 M57.1,30.1v1.3 M59.39,30.1v1.3 M61.68,30.1v1.3 M63.97,30.1v1.3 M66.26,30.1v1.3 M68.55,30.1v2.8 M70.84,30.1v1.3 M73.13,30.1v1.3 M75.42,30.1v1.3 M77.71,30.1v1.3 M80,30.1v1.3 M82.29,30.1v1.3 M84.58,30.1v1.3 M86.87,30.1v1.3 M89.16,30.1v1.3 M91.45,30.1v2.8 M93.74,30.1v1.3 M96.03,30.1v1.3 M98.32,30.1v1.3 M100.61,30.1v1.3 M102.9,30.1v1.3 M105.19,30.1v1.3 M107.48,30.1v1.3 M109.77,30.1v1.3 M112.06,30.1v1.3 M114.35,30.1v2.8 M116.64,30.1v1.3 M118.93,30.1v1.3 M121.22,30.1v1.3 M123.51,30.1v1.3 M125.8,30.1v1.3 M128.09,30.1v1.3 M130.38,30.1v1.3 M132.67,30.1v1.3 M134.96,30.1v1.3 M137.25,30.1v2.8 M139.54,30.1v1.3 M141.83,30.1v1.3 M144.12,30.1v1.3 M146.41,30.1v1.3 M148.7,30.1v1.3 M150.99,30.1v1.3 M153.28,30.1v1.3 M155.57,30.1v1.3 M157.86,30.1v1.3 M160.15,30.1v2.8 M162.44,30.1v1.3 M164.73,30.1v1.3 M167.02,30.1v1.3 M169.31,30.1v1.3 M171.6,30.1v1.3 M173.89,30.1v1.3 M176.18,30.1v1.3 M178.47,30.1v1.3 M180.76,30.1v1.3 M183.05,30.1v2.8 M185.34,30.1v1.3 M187.63,30.1v1.3 M189.92,30.1v1.3 M192.21,30.1v1.3 M194.5,30.1v1.3 M196.79,30.1v1.3 M199.08,30.1v1.3 M201.37,30.1v1.3 M203.66,30.1v1.3 M205.95,30.1v2.8 M208.24,30.1v1.3 M210.53,30.1v1.3 M212.82,30.1v1.3 M215.11,30.1v1.3 M217.4,30.1v1.3 M219.69,30.1v1.3 M221.98,30.1v1.3 M224.27,30.1v1.3 M226.56,30.1v1.3 M228.85,30.1v2.8 M231.14,30.1v1.3 M233.43,30.1v1.3 M235.72,30.1v1.3 M238.01,30.1v1.3 M240.3,30.1v1.3 M242.59,30.1v1.3 M244.88,30.1v1.3 M247.17,30.1v1.3 M45.65,213.15v-2.8 M55.25,213.15v-1.3 M64.85,213.15v-1.3 M74.45,213.15v-1.3 M84.05,213.15v-1.3 M93.65,213.15v-2.8 M103.25,213.15v-1.3 M112.85,213.15v-1.3 M122.45,213.15v-1.3 M132.05,213.15v-1.3 M141.65,213.15v-2.8 M151.25,213.15v-1.3 M160.85,213.15v-1.3 M170.45,213.15v-1.3 M180.05,213.15v-1.3 M189.65,213.15v-2.8 M199.25,213.15v-1.3 M208.85,213.15v-1.3 M218.45,213.15v-1.3 M228.05,213.15v-1.3 M237.65,213.15v-2.8 M247.25,213.15v-1.3 M45.65,40.62h1.3 M45.65,59.79h2.8 M45.65,78.96h1.3 M45.65,98.13h2.8 M45.65,117.3h1.3 M45.65,136.47h2.8 M45.65,155.64h1.3 M45.65,174.81h2.8 M45.65,193.98h1.3 M264.6,30.1v2.8 M266.89,30.1v1.3 M269.18,30.1v1.3 M271.47,30.1v1.3 M273.76,30.1v1.3 M276.05,30.1v1.3 M278.34,30.1v1.3 M280.63,30.1v1.3 M282.92,30.1v1.3 M285.21,30.1v1.3 M287.5,30.1v2.8 M289.79,30.1v1.3 M292.08,30.1v1.3 M294.37,30.1v1.3 M296.66,30.1v1.3 M298.95,30.1v1.3 M301.24,30.1v1.3 M303.53,30.1v1.3 M305.82,30.1v1.3 M308.11,30.1v1.3 M310.4,30.1v2.8 M312.69,30.1v1.3 M314.98,30.1v1.3 M317.27,30.1v1.3 M319.56,30.1v1.3 M321.85,30.1v1.3 M324.14,30.1v1.3 M326.43,30.1v1.3 M328.72,30.1v1.3 M331.01,30.1v1.3 M333.3,30.1v2.8 M335.59,30.1v1.3 M337.88,30.1v1.3 M340.17,30.1v1.3 M342.46,30.1v1.3 M344.75,30.1v1.3 M347.04,30.1v1.3 M349.33,30.1v1.3 M351.62,30.1v1.3 M353.91,30.1v1.3 M356.2,30.1v2.8 M358.49,30.1v1.3 M360.78,30.1v1.3 M363.07,30.1v1.3 M365.36,30.1v1.3 M367.65,30.1v1.3 M369.94,30.1v1.3 M372.23,30.1v1.3 M374.52,30.1v1.3 M376.81,30.1v1.3 M379.1,30.1v2.8 M381.39,30.1v1.3 M383.68,30.1v1.3 M385.97,30.1v1.3 M388.26,30.1v1.3 M390.55,30.1v1.3 M392.84,30.1v1.3 M395.13,30.1v1.3 M397.42,30.1v1.3 M399.71,30.1v1.3 M402,30.1v2.8 M404.29,30.1v1.3 M406.58,30.1v1.3 M408.87,30.1v1.3 M411.16,30.1v1.3 M413.45,30.1v1.3 M415.74,30.1v1.3 M418.03,30.1v1.3 M420.32,30.1v1.3 M422.61,30.1v1.3 M424.9,30.1v2.8 M427.19,30.1v1.3 M429.48,30.1v1.3 M431.77,30.1v1.3 M434.06,30.1v1.3 M436.35,30.1v1.3 M438.64,30.1v1.3 M440.93,30.1v1.3 M443.22,30.1v1.3 M445.51,30.1v1.3 M447.8,30.1v2.8 M450.09,30.1v1.3 M452.38,30.1v1.3 M454.67,30.1v1.3 M456.96,30.1v1.3 M459.25,30.1v1.3 M461.54,30.1v1.3 M463.83,30.1v1.3 M264.6,213.15v-2.8 M274.2,213.15v-1.3 M283.8,213.15v-1.3 M293.4,213.15v-1.3 M303,213.15v-1.3 M312.6,213.15v-2.8 M322.2,213.15v-1.3 M331.8,213.15v-1.3 M341.4,213.15v-1.3 M351,213.15v-1.3 M360.6,213.15v-2.8 M370.2,213.15v-1.3 M379.8,213.15v-1.3 M389.4,213.15v-1.3 M399,213.15v-1.3 M408.6,213.15v-2.8 M418.2,213.15v-1.3 M427.8,213.15v-1.3 M437.4,213.15v-1.3 M447,213.15v-1.3 M456.6,213.15v-2.8 M264.6,40.62h1.3 M264.6,59.79h2.8 M264.6,78.96h1.3 M264.6,98.13h2.8 M264.6,117.3h1.3 M264.6,136.47h2.8 M264.6,155.64h1.3 M264.6,174.81h2.8 M264.6,193.98h1.3 M482.65,27v2.8 M484.93,27v1.3 M487.21,27v1.3 M489.49,27v1.3 M491.77,27v1.3 M494.04,27v1.3 M496.32,27v1.3 M498.6,27v1.3 M500.88,27v1.3 M503.16,27v1.3 M505.44,27v2.8 M507.72,27v1.3 M510,27v1.3 M512.28,27v1.3 M514.56,27v1.3 M516.84,27v1.3 M519.11,27v1.3 M521.39,27v1.3 M523.67,27v1.3 M525.95,27v1.3 M528.23,27v2.8 M530.51,27v1.3 M532.79,27v1.3 M535.07,27v1.3 M537.35,27v1.3 M539.62,27v1.3 M541.9,27v1.3 M544.18,27v1.3 M546.46,27v1.3 M548.74,27v1.3 M551.02,27v2.8 M553.3,27v1.3 M555.58,27v1.3 M557.86,27v1.3 M560.14,27v1.3 M562.41,27v1.3 M564.69,27v1.3 M566.97,27v1.3 M569.25,27v1.3 M571.53,27v1.3 M573.81,27v2.8 M576.09,27v1.3 M578.37,27v1.3 M580.65,27v1.3 M582.93,27v1.3 M585.2,27v1.3 M587.48,27v1.3 M589.76,27v1.3 M592.04,27v1.3 M594.32,27v1.3 M596.6,27v2.8 M598.88,27v1.3 M601.16,27v1.3 M603.44,27v1.3 M605.72,27v1.3 M608,27v1.3 M610.27,27v1.3 M612.55,27v1.3 M614.83,27v1.3 M617.11,27v1.3 M619.39,27v2.8 M621.67,27v1.3 M623.95,27v1.3 M626.23,27v1.3 M628.51,27v1.3 M630.78,27v1.3 M633.06,27v1.3 M635.34,27v1.3 M637.62,27v1.3 M639.9,27v1.3 M642.18,27v2.8 M644.46,27v1.3 M646.74,27v1.3 M649.02,27v1.3 M651.3,27v1.3 M653.57,27v1.3 M655.85,27v1.3 M658.13,27v1.3 M660.41,27v1.3 M662.69,27v1.3 M664.97,27v2.8 M667.25,27v1.3 M669.53,27v1.3 M671.81,27v1.3 M674.09,27v1.3 M676.37,27v1.3 M678.64,27v1.3 M680.92,27v1.3 M683.2,27v1.3 M482.65,210.1v-2.8 M494.65,210.1v-1.3 M506.65,210.1v-1.3 M518.65,210.1v-1.3 M530.65,210.1v-2.8 M542.65,210.1v-1.3 M554.65,210.1v-1.3 M566.65,210.1v-1.3 M578.65,210.1v-2.8 M590.65,210.1v-1.3 M602.65,210.1v-1.3 M614.65,210.1v-1.3 M626.65,210.1v-2.8 M638.65,210.1v-1.3 M650.65,210.1v-1.3 M662.65,210.1v-1.3 M674.65,210.1v-2.8 M482.65,37.57h1.3 M482.65,56.74h2.8 M482.65,75.91h1.3 M482.65,95.08h2.8 M482.65,114.25h1.3 M482.65,133.42h2.8 M482.65,152.59h1.3 M482.65,171.76h2.8 M482.65,190.93h1.3" stroke="#1a1a1a" stroke-width="1" fill="none"/>
<text x="45.65" y="25.5" font-size="11" text-anchor="middle">0</text>
<text x="68.55" y="25.5" font-size="11" text-anchor="middle">10</text>
<text x="91.45" y="25.5" font-size="11" text-anchor="middle">20</text>
<text x="114.35" y="25.5" font-size="11" text-anchor="middle">30</text>
<text x="137.25" y="25.5" font-size="11" text-anchor="middle">40</text>
<text x="160.15" y="25.5" font-size="11" text-anchor="middle">50</text>
<text x="183.05" y="25.5" font-size="11" text-anchor="middle">60</text>
<text x="205.95" y="25.5" font-size="11" text-anchor="middle">70</text>
<text x="228.85" y="25.5" font-size="11" text-anchor="middle">80</text>
<text x="45.65" y="226.05" font-size="11" text-anchor="middle">0</text>
<text x="93.65" y="226.05" font-size="11" text-anchor="middle">100</text>
<text x="141.65" y="226.05" font-size="11" text-anchor="middle">200</text>
<text x="189.65" y="226.05" font-size="11" text-anchor="middle">300</text>
<text x="237.65" y="226.05" font-size="11" text-anchor="middle">400</text>
<text x="264.6" y="25.5" font-size="11" text-anchor="middle">0</text>
<text x="287.5" y="25.5" font-size="11" text-anchor="middle">10</text>
<text x="310.4" y="25.5" font-size="11" text-anchor="middle">20</text>
<text x="333.3" y="25.5" font-size="11" text-anchor="middle">30</text>
<text x="356.2" y="25.5" font-size="11" text-anchor="middle">40</text>
<text x="379.1" y="25.5" font-size="11" text-anchor="middle">50</text>
<text x="402" y="25.5" font-size="11" text-anchor="middle">60</text>
<text x="424.9" y="25.5" font-size="11" text-anchor="middle">70</text>
<text x="447.8" y="25.5" font-size="11" text-anchor="middle">80</text>
<text x="264.6" y="226.05" font-size="11" text-anchor="middle">0</text>
<text x="312.6" y="226.05" font-size="11" text-anchor="middle">100</text>
<text x="360.6" y="226.05" font-size="11" text-anchor="middle">200</text>
<text x="408.6" y="226.05" font-size="11" text-anchor="middle">300</text>
<text x="456.6" y="226.05" font-size="11" text-anchor="middle">400</text>
<text x="482.65" y="22.5" font-size="11" text-anchor="middle">0</text>
<text x="505.44" y="22.5" font-size="11" text-anchor="middle">20</text>
<text x="528.23" y="22.5" font-size="11" text-anchor="middle">40</text>
<text x="551.02" y="22.5" font-size="11" text-anchor="middle">60</text>
<text x="573.81" y="22.5" font-size="11" text-anchor="middle">80</text>
<text x="596.6" y="22.5" font-size="11" text-anchor="middle">100</text>
<text x="619.39" y="22.5" font-size="11" text-anchor="middle">120</text>
<text x="642.18" y="22.5" font-size="11" text-anchor="middle">140</text>
<text x="664.97" y="22.5" font-size="11" text-anchor="middle">160</text>
<text x="482.65" y="223" font-size="11" text-anchor="middle">0</text>
<text x="530.65" y="223" font-size="11" text-anchor="middle">200</text>
<text x="578.65" y="223" font-size="11" text-anchor="middle">400</text>
<text x="626.65" y="223" font-size="11" text-anchor="middle">600</text>
<text x="674.65" y="223" font-size="11" text-anchor="middle">800</text>
<text x="42.2" y="63.69" font-size="11" text-anchor="end">0.01</text>
<text x="43.2" y="102.03" font-size="11" text-anchor="end">10<tspan font-size="8" dy="-4.5">−4</tspan></text>
<text x="43.2" y="140.37" font-size="11" text-anchor="end">10<tspan font-size="8" dy="-4.5">−6</tspan></text>
<text x="43.2" y="178.71" font-size="11" text-anchor="end">10<tspan font-size="8" dy="-4.5">−8</tspan></text>
<text x="43.2" y="217.05" font-size="11" text-anchor="end">10<tspan font-size="8" dy="-4.5">−10</tspan></text>
<text x="51.6" y="208" font-size="11">a) BB84−no decoy</text>
<text x="269.6" y="208" font-size="11">b) BB84−decoy</text>
<text x="487.6" y="205.1" font-size="11">c) Twin field−decoy</text>
<path d="M164.2,43.6H191.9" stroke="#E19C24" stroke-width="1.4"/>
<text x="197.4" y="47.2" font-size="10">LA QDS</text>
<path d="M164.2,63.6H191.9" stroke="#8FB032" stroke-width="1.4"/>
<text x="197.4" y="67.2" font-size="10">TPE QDS</text>
<path d="M164.2,83.5H190.2" stroke="#EB6235" stroke-width="1.5" stroke-dasharray="3.1,2.6"/>
<text x="197.4" y="87.1" font-size="10">RP PDS</text>
<path d="M382.7,43.6H410.3" stroke="#E19C24" stroke-width="1.4"/>
<text x="415.9" y="47.2" font-size="10">LA QDS</text>
<path d="M382.7,63.6H410.3" stroke="#8FB032" stroke-width="1.4"/>
<text x="415.9" y="67.2" font-size="10">TPE QDS</text>
<path d="M382.7,83.5H408.7" stroke="#EB6235" stroke-width="1.5" stroke-dasharray="3.1,2.6"/>
<text x="415.9" y="87.1" font-size="10">RP PDS</text>
<path d="M601.4,41.9H628.8" stroke="#5E81B5" stroke-width="1.4"/>
<text x="634.5" y="45.5" font-size="10">RE QDS</text>
<path d="M601.4,62.4H627.4" stroke="#EB6235" stroke-width="1.5" stroke-dasharray="3.1,2.6"/>
<text x="634.5" y="66" font-size="10">RP PDS</text>
<text x="365.3" y="8.4" font-size="11" text-anchor="middle">Losses (dB)</text>
<text x="365.6" y="242.5" font-size="11" text-anchor="middle">Distance (km)</text>
<text x="0" y="0" font-size="11" text-anchor="middle" transform="translate(10.1,120.5) rotate(-90)">Secure key rate (bits/pulse)</text>
</svg></body></html>
